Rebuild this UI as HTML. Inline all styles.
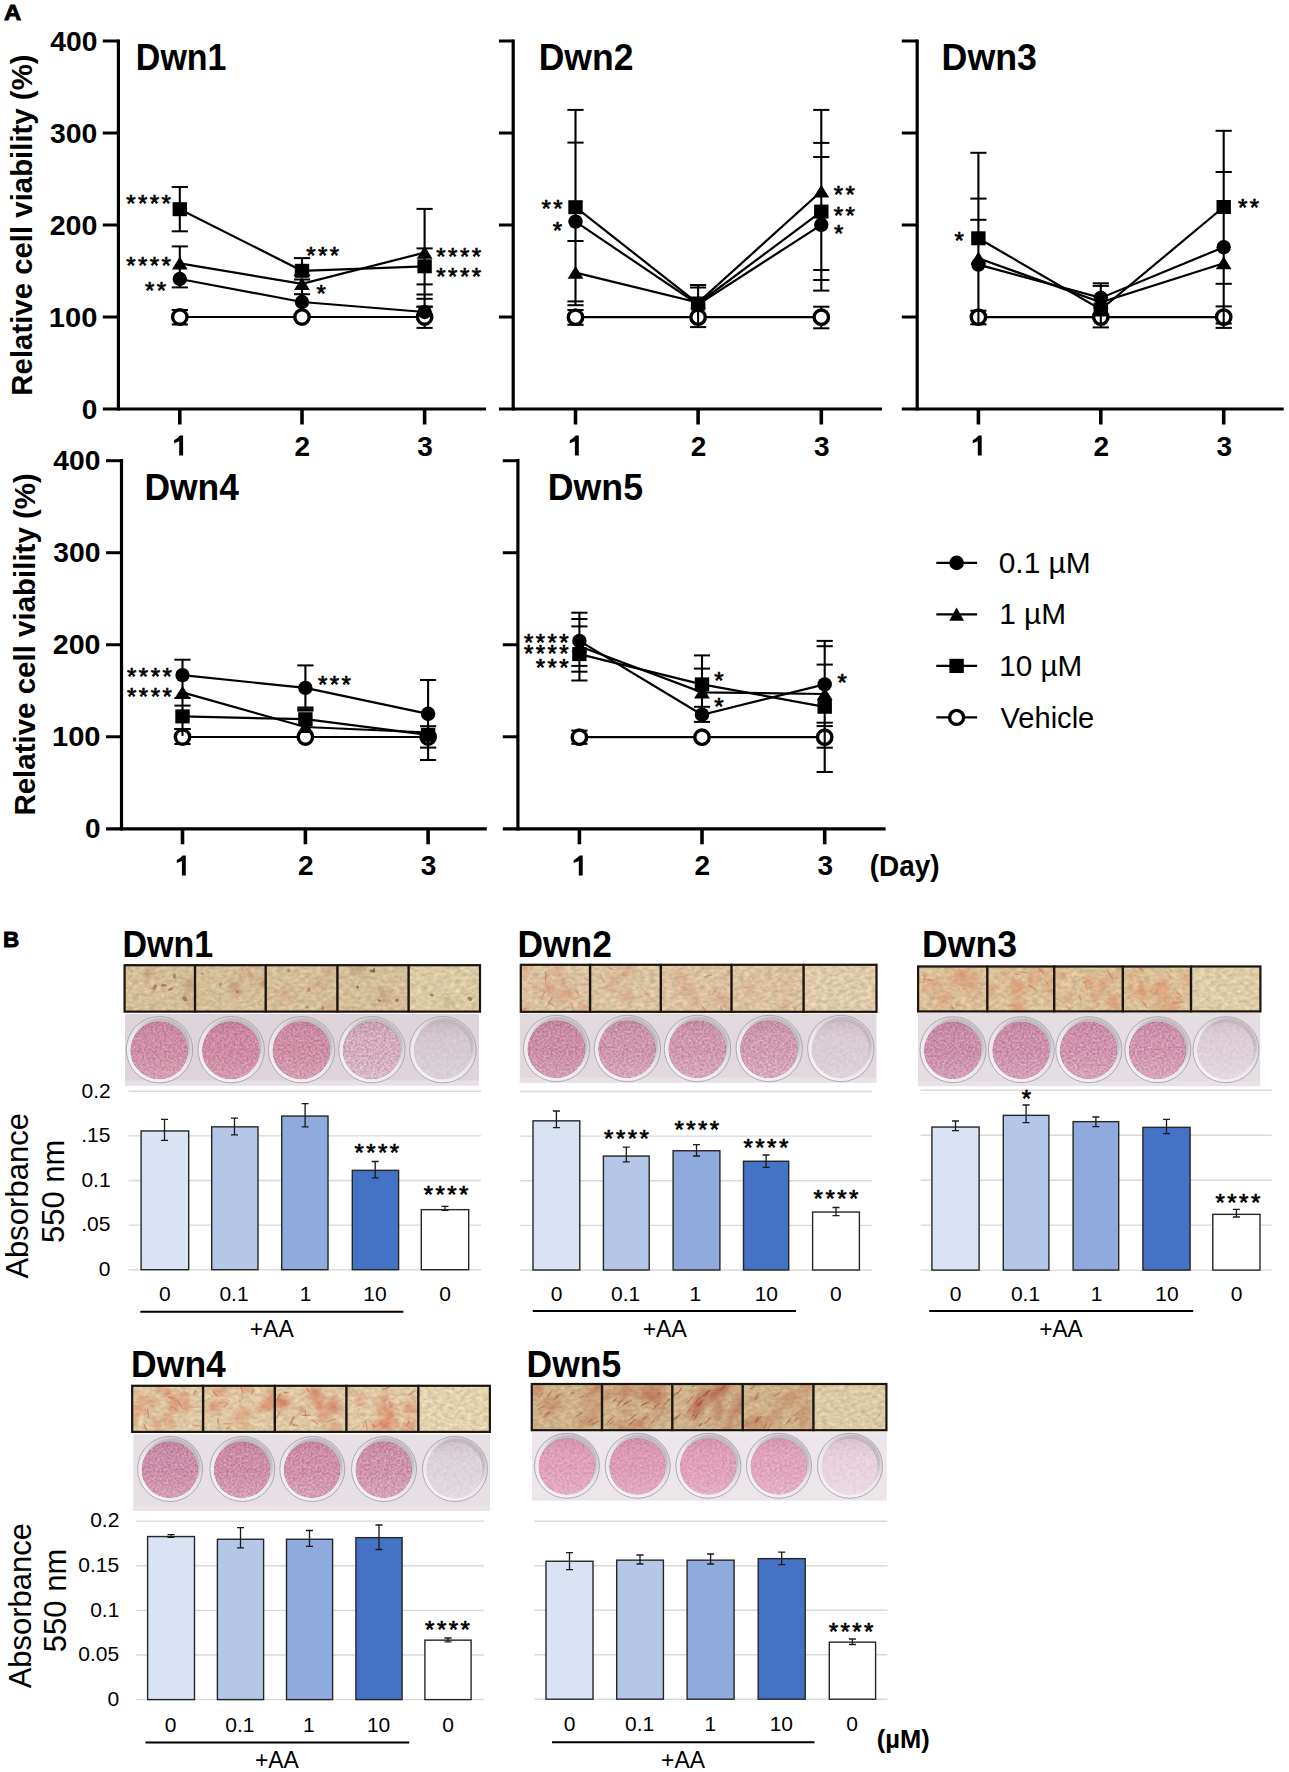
<!DOCTYPE html>
<html><head><meta charset="utf-8"><style>
html,body{margin:0;padding:0;background:#fff;}
svg{display:block;font-family:"Liberation Sans",sans-serif;}
</style></head><body>
<svg width="1289" height="1772" viewBox="0 0 1289 1772">
<rect width="1289" height="1772" fill="#fff"/>
<line x1="118.40" y1="39.40" x2="118.40" y2="410.60" stroke="#000" stroke-width="3.2"/>
<line x1="102.80" y1="409.00" x2="486.00" y2="409.00" stroke="#000" stroke-width="3.2"/>
<line x1="102.80" y1="317.00" x2="118.40" y2="317.00" stroke="#000" stroke-width="3.0"/>
<line x1="102.80" y1="225.00" x2="118.40" y2="225.00" stroke="#000" stroke-width="3.0"/>
<line x1="102.80" y1="133.00" x2="118.40" y2="133.00" stroke="#000" stroke-width="3.0"/>
<line x1="102.80" y1="41.00" x2="118.40" y2="41.00" stroke="#000" stroke-width="3.0"/>
<line x1="179.80" y1="409.00" x2="179.80" y2="424.50" stroke="#000" stroke-width="3.6"/>
<line x1="302.00" y1="409.00" x2="302.00" y2="424.50" stroke="#000" stroke-width="3.6"/>
<line x1="424.60" y1="409.00" x2="424.60" y2="424.50" stroke="#000" stroke-width="3.6"/>
<path d="M183.10,435.60 V455.60 h-3.9 V441.30 L174.10,443.30 V440.20 Q177.50,438.60 180.00,435.60 Z" fill="#000"/>
<text x="294.59" y="455.54" font-size="28" font-weight="bold" fill="#000">2</text>
<text x="417.30" y="455.54" font-size="28" font-weight="bold" fill="#000">3</text>
<text x="81.78" y="418.63" font-size="28" font-weight="bold" fill="#000">0</text>
<text x="48.87" y="326.63" font-size="28" font-weight="bold" textLength="48.54" lengthAdjust="spacingAndGlyphs" fill="#000">100</text>
<text x="49.70" y="234.63" font-size="28" font-weight="bold" textLength="47.69" lengthAdjust="spacingAndGlyphs" fill="#000">200</text>
<text x="50.05" y="142.62" font-size="28" font-weight="bold" textLength="47.33" lengthAdjust="spacingAndGlyphs" fill="#000">300</text>
<text x="50.28" y="50.63" font-size="28" font-weight="bold" textLength="47.09" lengthAdjust="spacingAndGlyphs" fill="#000">400</text>
<text transform="translate(31.90,395.67) rotate(-90)" font-size="30" font-weight="bold" textLength="341.23" lengthAdjust="spacingAndGlyphs">Relative cell viability (%)</text>
<text x="135.82" y="69.80" font-size="37" font-weight="bold" textLength="90.73" lengthAdjust="spacingAndGlyphs" fill="#000">Dwn1</text>
<polyline points="179.80,317.00 302.00,317.00 424.60,317.00" fill="none" stroke="#000" stroke-width="2.2"/>
<line x1="179.80" y1="310.00" x2="179.80" y2="324.50" stroke="#000" stroke-width="2.1"/>
<line x1="171.70" y1="310.00" x2="187.90" y2="310.00" stroke="#000" stroke-width="2.0"/>
<line x1="171.70" y1="324.50" x2="187.90" y2="324.50" stroke="#000" stroke-width="2.0"/>
<line x1="424.60" y1="306.70" x2="424.60" y2="327.90" stroke="#000" stroke-width="2.1"/>
<line x1="416.50" y1="306.70" x2="432.70" y2="306.70" stroke="#000" stroke-width="2.0"/>
<line x1="416.50" y1="327.90" x2="432.70" y2="327.90" stroke="#000" stroke-width="2.0"/>
<circle cx="179.80" cy="317.00" r="7.2" fill="#fff" stroke="#000" stroke-width="3.4"/>
<circle cx="302.00" cy="317.00" r="7.2" fill="#fff" stroke="#000" stroke-width="3.4"/>
<circle cx="424.60" cy="317.00" r="7.2" fill="#fff" stroke="#000" stroke-width="3.4"/>
<line x1="179.80" y1="187.00" x2="179.80" y2="231.30" stroke="#000" stroke-width="2.1"/>
<line x1="171.70" y1="187.00" x2="187.90" y2="187.00" stroke="#000" stroke-width="2.0"/>
<line x1="171.70" y1="231.30" x2="187.90" y2="231.30" stroke="#000" stroke-width="2.0"/>
<line x1="179.80" y1="246.40" x2="179.80" y2="287.40" stroke="#000" stroke-width="2.1"/>
<line x1="171.70" y1="246.40" x2="187.90" y2="246.40" stroke="#000" stroke-width="2.0"/>
<line x1="171.70" y1="287.40" x2="187.90" y2="287.40" stroke="#000" stroke-width="2.0"/>
<line x1="302.00" y1="258.10" x2="302.00" y2="275.50" stroke="#000" stroke-width="2.1"/>
<line x1="293.90" y1="258.10" x2="310.10" y2="258.10" stroke="#000" stroke-width="2.0"/>
<line x1="293.90" y1="275.50" x2="310.10" y2="275.50" stroke="#000" stroke-width="2.0"/>
<line x1="302.00" y1="279.50" x2="302.00" y2="294.20" stroke="#000" stroke-width="2.1"/>
<line x1="293.90" y1="279.50" x2="310.10" y2="279.50" stroke="#000" stroke-width="2.0"/>
<line x1="293.90" y1="294.20" x2="310.10" y2="294.20" stroke="#000" stroke-width="2.0"/>
<line x1="424.60" y1="208.90" x2="424.60" y2="306.70" stroke="#000" stroke-width="2.1"/>
<line x1="416.50" y1="208.90" x2="432.70" y2="208.90" stroke="#000" stroke-width="2.0"/>
<line x1="416.50" y1="248.40" x2="432.70" y2="248.40" stroke="#000" stroke-width="2.0"/>
<line x1="416.50" y1="284.40" x2="432.70" y2="284.40" stroke="#000" stroke-width="2.0"/>
<line x1="416.50" y1="294.50" x2="432.70" y2="294.50" stroke="#000" stroke-width="2.0"/>
<line x1="416.50" y1="298.80" x2="432.70" y2="298.80" stroke="#000" stroke-width="2.0"/>
<line x1="416.50" y1="306.70" x2="432.70" y2="306.70" stroke="#000" stroke-width="2.0"/>
<polyline points="179.80,279.00 302.00,302.00 424.60,312.00" fill="none" stroke="#000" stroke-width="2.2"/>
<polyline points="179.80,263.40 302.00,283.90 424.60,252.60" fill="none" stroke="#000" stroke-width="2.2"/>
<polyline points="179.80,209.20 302.00,270.80 424.60,266.30" fill="none" stroke="#000" stroke-width="2.2"/>
<circle cx="179.80" cy="279.00" r="7.2" fill="#000"/>
<circle cx="302.00" cy="302.00" r="7.2" fill="#000"/>
<circle cx="424.60" cy="312.00" r="7.2" fill="#000"/>
<polygon points="179.80,256.80 187.70,269.50 171.90,269.50" fill="#000"/>
<polygon points="302.00,277.30 309.90,290.00 294.10,290.00" fill="#000"/>
<polygon points="424.60,246.00 432.50,258.70 416.70,258.70" fill="#000"/>
<rect x="172.60" y="202.20" width="14.4" height="14.0" fill="#000"/>
<rect x="294.80" y="263.80" width="14.4" height="14.0" fill="#000"/>
<rect x="417.40" y="259.30" width="14.4" height="14.0" fill="#000"/>
<text x="126.15" y="211.70" font-size="24.0" stroke="#000" stroke-width="0.7">*</text><text x="137.95" y="211.70" font-size="24.0" stroke="#000" stroke-width="0.7">*</text><text x="149.75" y="211.70" font-size="24.0" stroke="#000" stroke-width="0.7">*</text><text x="161.55" y="211.70" font-size="24.0" stroke="#000" stroke-width="0.7">*</text>
<text x="126.15" y="273.80" font-size="24.0" stroke="#000" stroke-width="0.7">*</text><text x="137.95" y="273.80" font-size="24.0" stroke="#000" stroke-width="0.7">*</text><text x="149.75" y="273.80" font-size="24.0" stroke="#000" stroke-width="0.7">*</text><text x="161.55" y="273.80" font-size="24.0" stroke="#000" stroke-width="0.7">*</text>
<text x="145.05" y="298.60" font-size="24.0" stroke="#000" stroke-width="0.7">*</text><text x="156.85" y="298.60" font-size="24.0" stroke="#000" stroke-width="0.7">*</text>
<text x="306.22" y="263.90" font-size="24.0" stroke="#000" stroke-width="0.7">*</text><text x="318.02" y="263.90" font-size="24.0" stroke="#000" stroke-width="0.7">*</text><text x="329.82" y="263.90" font-size="24.0" stroke="#000" stroke-width="0.7">*</text>
<text x="316.62" y="302.30" font-size="24.0" stroke="#000" stroke-width="0.7">*</text>
<text x="436.32" y="264.90" font-size="24.0" stroke="#000" stroke-width="0.7">*</text><text x="448.12" y="264.90" font-size="24.0" stroke="#000" stroke-width="0.7">*</text><text x="459.92" y="264.90" font-size="24.0" stroke="#000" stroke-width="0.7">*</text><text x="471.72" y="264.90" font-size="24.0" stroke="#000" stroke-width="0.7">*</text>
<text x="436.32" y="285.10" font-size="24.0" stroke="#000" stroke-width="0.7">*</text><text x="448.12" y="285.10" font-size="24.0" stroke="#000" stroke-width="0.7">*</text><text x="459.92" y="285.10" font-size="24.0" stroke="#000" stroke-width="0.7">*</text><text x="471.72" y="285.10" font-size="24.0" stroke="#000" stroke-width="0.7">*</text>
<line x1="513.20" y1="39.40" x2="513.20" y2="410.60" stroke="#000" stroke-width="3.2"/>
<line x1="498.90" y1="409.00" x2="882.00" y2="409.00" stroke="#000" stroke-width="3.2"/>
<line x1="498.90" y1="317.00" x2="513.20" y2="317.00" stroke="#000" stroke-width="3.0"/>
<line x1="498.90" y1="225.00" x2="513.20" y2="225.00" stroke="#000" stroke-width="3.0"/>
<line x1="498.90" y1="133.00" x2="513.20" y2="133.00" stroke="#000" stroke-width="3.0"/>
<line x1="498.90" y1="41.00" x2="513.20" y2="41.00" stroke="#000" stroke-width="3.0"/>
<line x1="575.50" y1="409.00" x2="575.50" y2="424.50" stroke="#000" stroke-width="3.6"/>
<line x1="698.10" y1="409.00" x2="698.10" y2="424.50" stroke="#000" stroke-width="3.6"/>
<line x1="821.30" y1="409.00" x2="821.30" y2="424.50" stroke="#000" stroke-width="3.6"/>
<path d="M578.80,435.60 V455.60 h-3.9 V441.30 L569.80,443.30 V440.20 Q573.20,438.60 575.70,435.60 Z" fill="#000"/>
<text x="690.69" y="455.54" font-size="28" font-weight="bold" fill="#000">2</text>
<text x="814.00" y="455.54" font-size="28" font-weight="bold" fill="#000">3</text>
<text x="538.72" y="70.00" font-size="37" font-weight="bold" textLength="94.70" lengthAdjust="spacingAndGlyphs" fill="#000">Dwn2</text>
<polyline points="575.50,317.20 698.10,317.20 821.30,317.20" fill="none" stroke="#000" stroke-width="2.2"/>
<line x1="575.50" y1="310.00" x2="575.50" y2="324.80" stroke="#000" stroke-width="2.1"/>
<line x1="567.40" y1="310.00" x2="583.60" y2="310.00" stroke="#000" stroke-width="2.0"/>
<line x1="567.40" y1="324.80" x2="583.60" y2="324.80" stroke="#000" stroke-width="2.0"/>
<line x1="821.30" y1="306.70" x2="821.30" y2="328.30" stroke="#000" stroke-width="2.1"/>
<line x1="813.20" y1="306.70" x2="829.40" y2="306.70" stroke="#000" stroke-width="2.0"/>
<line x1="813.20" y1="328.30" x2="829.40" y2="328.30" stroke="#000" stroke-width="2.0"/>
<circle cx="575.50" cy="317.20" r="7.2" fill="#fff" stroke="#000" stroke-width="3.4"/>
<circle cx="698.10" cy="317.20" r="7.2" fill="#fff" stroke="#000" stroke-width="3.4"/>
<circle cx="821.30" cy="317.20" r="7.2" fill="#fff" stroke="#000" stroke-width="3.4"/>
<line x1="575.50" y1="109.90" x2="575.50" y2="305.20" stroke="#000" stroke-width="2.1"/>
<line x1="567.40" y1="109.90" x2="583.60" y2="109.90" stroke="#000" stroke-width="2.0"/>
<line x1="567.40" y1="142.60" x2="583.60" y2="142.60" stroke="#000" stroke-width="2.0"/>
<line x1="567.40" y1="241.00" x2="583.60" y2="241.00" stroke="#000" stroke-width="2.0"/>
<line x1="567.40" y1="301.40" x2="583.60" y2="301.40" stroke="#000" stroke-width="2.0"/>
<line x1="567.40" y1="305.20" x2="583.60" y2="305.20" stroke="#000" stroke-width="2.0"/>
<line x1="698.10" y1="285.00" x2="698.10" y2="327.10" stroke="#000" stroke-width="2.1"/>
<line x1="690.00" y1="285.00" x2="706.20" y2="285.00" stroke="#000" stroke-width="2.0"/>
<line x1="690.00" y1="287.50" x2="706.20" y2="287.50" stroke="#000" stroke-width="2.0"/>
<line x1="690.00" y1="327.10" x2="706.20" y2="327.10" stroke="#000" stroke-width="2.0"/>
<line x1="821.30" y1="109.90" x2="821.30" y2="290.60" stroke="#000" stroke-width="2.1"/>
<line x1="813.20" y1="109.90" x2="829.40" y2="109.90" stroke="#000" stroke-width="2.0"/>
<line x1="813.20" y1="142.90" x2="829.40" y2="142.90" stroke="#000" stroke-width="2.0"/>
<line x1="813.20" y1="157.00" x2="829.40" y2="157.00" stroke="#000" stroke-width="2.0"/>
<line x1="813.20" y1="270.00" x2="829.40" y2="270.00" stroke="#000" stroke-width="2.0"/>
<line x1="813.20" y1="280.00" x2="829.40" y2="280.00" stroke="#000" stroke-width="2.0"/>
<line x1="813.20" y1="290.60" x2="829.40" y2="290.60" stroke="#000" stroke-width="2.0"/>
<polyline points="575.50,272.60 698.10,302.50 821.30,191.30" fill="none" stroke="#000" stroke-width="2.2"/>
<polyline points="575.50,221.60 698.10,304.50 821.30,224.80" fill="none" stroke="#000" stroke-width="2.2"/>
<polyline points="575.50,207.20 698.10,303.50 821.30,211.60" fill="none" stroke="#000" stroke-width="2.2"/>
<polygon points="575.50,266.00 583.40,278.70 567.60,278.70" fill="#000"/>
<polygon points="698.10,295.90 706.00,308.60 690.20,308.60" fill="#000"/>
<polygon points="821.30,184.70 829.20,197.40 813.40,197.40" fill="#000"/>
<circle cx="575.50" cy="221.60" r="7.2" fill="#000"/>
<circle cx="698.10" cy="304.50" r="7.2" fill="#000"/>
<circle cx="821.30" cy="224.80" r="7.2" fill="#000"/>
<rect x="568.30" y="200.20" width="14.4" height="14.0" fill="#000"/>
<rect x="690.90" y="296.50" width="14.4" height="14.0" fill="#000"/>
<rect x="814.10" y="204.60" width="14.4" height="14.0" fill="#000"/>
<text x="541.55" y="216.50" font-size="24.0" stroke="#000" stroke-width="0.7">*</text><text x="553.35" y="216.50" font-size="24.0" stroke="#000" stroke-width="0.7">*</text>
<text x="552.85" y="238.80" font-size="24.0" stroke="#000" stroke-width="0.7">*</text>
<text x="833.82" y="202.80" font-size="24.0" stroke="#000" stroke-width="0.7">*</text><text x="845.62" y="202.80" font-size="24.0" stroke="#000" stroke-width="0.7">*</text>
<text x="833.82" y="223.90" font-size="24.0" stroke="#000" stroke-width="0.7">*</text><text x="845.62" y="223.90" font-size="24.0" stroke="#000" stroke-width="0.7">*</text>
<text x="834.12" y="241.80" font-size="24.0" stroke="#000" stroke-width="0.7">*</text>
<line x1="917.20" y1="39.40" x2="917.20" y2="410.60" stroke="#000" stroke-width="3.2"/>
<line x1="901.80" y1="409.00" x2="1283.70" y2="409.00" stroke="#000" stroke-width="3.2"/>
<line x1="901.80" y1="317.00" x2="917.20" y2="317.00" stroke="#000" stroke-width="3.0"/>
<line x1="901.80" y1="225.00" x2="917.20" y2="225.00" stroke="#000" stroke-width="3.0"/>
<line x1="901.80" y1="133.00" x2="917.20" y2="133.00" stroke="#000" stroke-width="3.0"/>
<line x1="901.80" y1="41.00" x2="917.20" y2="41.00" stroke="#000" stroke-width="3.0"/>
<line x1="978.40" y1="409.00" x2="978.40" y2="424.50" stroke="#000" stroke-width="3.6"/>
<line x1="1100.80" y1="409.00" x2="1100.80" y2="424.50" stroke="#000" stroke-width="3.6"/>
<line x1="1223.70" y1="409.00" x2="1223.70" y2="424.50" stroke="#000" stroke-width="3.6"/>
<path d="M981.70,435.60 V455.60 h-3.9 V441.30 L972.70,443.30 V440.20 Q976.10,438.60 978.60,435.60 Z" fill="#000"/>
<text x="1093.39" y="455.54" font-size="28" font-weight="bold" fill="#000">2</text>
<text x="1216.40" y="455.54" font-size="28" font-weight="bold" fill="#000">3</text>
<text x="941.60" y="69.59" font-size="37" font-weight="bold" textLength="95.38" lengthAdjust="spacingAndGlyphs" fill="#000">Dwn3</text>
<polyline points="978.40,317.10 1100.80,317.10 1223.70,317.10" fill="none" stroke="#000" stroke-width="2.2"/>
<circle cx="978.40" cy="317.10" r="7.2" fill="#fff" stroke="#000" stroke-width="3.4"/>
<circle cx="1100.80" cy="317.10" r="7.2" fill="#fff" stroke="#000" stroke-width="3.4"/>
<circle cx="1223.70" cy="317.10" r="7.2" fill="#fff" stroke="#000" stroke-width="3.4"/>
<line x1="978.40" y1="152.80" x2="978.40" y2="324.30" stroke="#000" stroke-width="2.1"/>
<line x1="970.30" y1="152.80" x2="986.50" y2="152.80" stroke="#000" stroke-width="2.0"/>
<line x1="970.30" y1="198.60" x2="986.50" y2="198.60" stroke="#000" stroke-width="2.0"/>
<line x1="970.30" y1="219.80" x2="986.50" y2="219.80" stroke="#000" stroke-width="2.0"/>
<line x1="970.30" y1="310.70" x2="986.50" y2="310.70" stroke="#000" stroke-width="2.0"/>
<line x1="970.30" y1="324.30" x2="986.50" y2="324.30" stroke="#000" stroke-width="2.0"/>
<line x1="1100.80" y1="283.30" x2="1100.80" y2="327.40" stroke="#000" stroke-width="2.1"/>
<line x1="1092.70" y1="283.30" x2="1108.90" y2="283.30" stroke="#000" stroke-width="2.0"/>
<line x1="1092.70" y1="285.90" x2="1108.90" y2="285.90" stroke="#000" stroke-width="2.0"/>
<line x1="1092.70" y1="327.40" x2="1108.90" y2="327.40" stroke="#000" stroke-width="2.0"/>
<line x1="1223.70" y1="130.80" x2="1223.70" y2="327.90" stroke="#000" stroke-width="2.1"/>
<line x1="1215.60" y1="130.80" x2="1231.80" y2="130.80" stroke="#000" stroke-width="2.0"/>
<line x1="1215.60" y1="172.00" x2="1231.80" y2="172.00" stroke="#000" stroke-width="2.0"/>
<line x1="1215.60" y1="283.80" x2="1231.80" y2="283.80" stroke="#000" stroke-width="2.0"/>
<line x1="1215.60" y1="306.40" x2="1231.80" y2="306.40" stroke="#000" stroke-width="2.0"/>
<line x1="1215.60" y1="323.50" x2="1231.80" y2="323.50" stroke="#000" stroke-width="2.0"/>
<line x1="1215.60" y1="327.90" x2="1231.80" y2="327.90" stroke="#000" stroke-width="2.0"/>
<polyline points="978.40,258.20 1100.80,302.30 1223.70,263.20" fill="none" stroke="#000" stroke-width="2.2"/>
<polyline points="978.40,264.60 1100.80,297.90 1223.70,247.20" fill="none" stroke="#000" stroke-width="2.2"/>
<polyline points="978.40,238.30 1100.80,309.50 1223.70,207.00" fill="none" stroke="#000" stroke-width="2.2"/>
<polygon points="978.40,251.60 986.30,264.30 970.50,264.30" fill="#000"/>
<polygon points="1100.80,295.70 1108.70,308.40 1092.90,308.40" fill="#000"/>
<polygon points="1223.70,256.60 1231.60,269.30 1215.80,269.30" fill="#000"/>
<circle cx="978.40" cy="264.60" r="7.2" fill="#000"/>
<circle cx="1100.80" cy="297.90" r="7.2" fill="#000"/>
<circle cx="1223.70" cy="247.20" r="7.2" fill="#000"/>
<rect x="971.20" y="231.30" width="14.4" height="14.0" fill="#000"/>
<rect x="1093.60" y="302.50" width="14.4" height="14.0" fill="#000"/>
<rect x="1216.50" y="200.00" width="14.4" height="14.0" fill="#000"/>
<text x="954.42" y="248.80" font-size="24.0" stroke="#000" stroke-width="0.7">*</text>
<text x="1237.92" y="216.30" font-size="24.0" stroke="#000" stroke-width="0.7">*</text><text x="1249.72" y="216.30" font-size="24.0" stroke="#000" stroke-width="0.7">*</text>
<line x1="121.50" y1="459.10" x2="121.50" y2="830.40" stroke="#000" stroke-width="3.2"/>
<line x1="106.00" y1="828.80" x2="486.80" y2="828.80" stroke="#000" stroke-width="3.2"/>
<line x1="106.00" y1="736.77" x2="121.50" y2="736.77" stroke="#000" stroke-width="3.0"/>
<line x1="106.00" y1="644.75" x2="121.50" y2="644.75" stroke="#000" stroke-width="3.0"/>
<line x1="106.00" y1="552.72" x2="121.50" y2="552.72" stroke="#000" stroke-width="3.0"/>
<line x1="106.00" y1="460.70" x2="121.50" y2="460.70" stroke="#000" stroke-width="3.0"/>
<line x1="182.50" y1="828.80" x2="182.50" y2="844.30" stroke="#000" stroke-width="3.6"/>
<line x1="305.40" y1="828.80" x2="305.40" y2="844.30" stroke="#000" stroke-width="3.6"/>
<line x1="428.10" y1="828.80" x2="428.10" y2="844.30" stroke="#000" stroke-width="3.6"/>
<path d="M185.80,855.40 V875.40 h-3.9 V861.10 L176.80,863.10 V860.00 Q180.20,858.40 182.70,855.40 Z" fill="#000"/>
<text x="297.99" y="875.34" font-size="28" font-weight="bold" fill="#000">2</text>
<text x="420.80" y="875.34" font-size="28" font-weight="bold" fill="#000">3</text>
<text x="84.88" y="838.43" font-size="28" font-weight="bold" fill="#000">0</text>
<text x="51.97" y="746.41" font-size="28" font-weight="bold" textLength="48.54" lengthAdjust="spacingAndGlyphs" fill="#000">100</text>
<text x="52.80" y="654.38" font-size="28" font-weight="bold" textLength="47.69" lengthAdjust="spacingAndGlyphs" fill="#000">200</text>
<text x="53.15" y="562.34" font-size="28" font-weight="bold" textLength="47.33" lengthAdjust="spacingAndGlyphs" fill="#000">300</text>
<text x="53.38" y="470.33" font-size="28" font-weight="bold" textLength="47.09" lengthAdjust="spacingAndGlyphs" fill="#000">400</text>
<text transform="translate(35.00,815.58) rotate(-90)" font-size="30" font-weight="bold" textLength="342.44" lengthAdjust="spacingAndGlyphs">Relative cell viability (%)</text>
<text x="144.42" y="499.80" font-size="37" font-weight="bold" textLength="94.55" lengthAdjust="spacingAndGlyphs" fill="#000">Dwn4</text>
<polyline points="182.50,737.00 305.40,737.00 428.10,737.00" fill="none" stroke="#000" stroke-width="2.2"/>
<line x1="182.50" y1="729.00" x2="182.50" y2="744.00" stroke="#000" stroke-width="2.1"/>
<line x1="174.40" y1="729.00" x2="190.60" y2="729.00" stroke="#000" stroke-width="2.0"/>
<line x1="174.40" y1="744.00" x2="190.60" y2="744.00" stroke="#000" stroke-width="2.0"/>
<circle cx="182.50" cy="737.00" r="7.2" fill="#fff" stroke="#000" stroke-width="3.4"/>
<circle cx="305.40" cy="737.00" r="7.2" fill="#fff" stroke="#000" stroke-width="3.4"/>
<circle cx="428.10" cy="737.00" r="7.2" fill="#fff" stroke="#000" stroke-width="3.4"/>
<line x1="182.50" y1="659.70" x2="182.50" y2="736.00" stroke="#000" stroke-width="2.1"/>
<line x1="174.40" y1="659.70" x2="190.60" y2="659.70" stroke="#000" stroke-width="2.0"/>
<line x1="174.40" y1="698.00" x2="190.60" y2="698.00" stroke="#000" stroke-width="2.0"/>
<line x1="174.40" y1="705.60" x2="190.60" y2="705.60" stroke="#000" stroke-width="2.0"/>
<line x1="174.40" y1="729.00" x2="190.60" y2="729.00" stroke="#000" stroke-width="2.0"/>
<line x1="305.40" y1="665.40" x2="305.40" y2="710.60" stroke="#000" stroke-width="2.1"/>
<line x1="297.30" y1="665.40" x2="313.50" y2="665.40" stroke="#000" stroke-width="2.0"/>
<line x1="297.30" y1="707.50" x2="313.50" y2="707.50" stroke="#000" stroke-width="2.0"/>
<line x1="297.30" y1="709.20" x2="313.50" y2="709.20" stroke="#000" stroke-width="2.0"/>
<line x1="297.30" y1="710.60" x2="313.50" y2="710.60" stroke="#000" stroke-width="2.0"/>
<line x1="428.10" y1="680.00" x2="428.10" y2="760.00" stroke="#000" stroke-width="2.1"/>
<line x1="420.00" y1="680.00" x2="436.20" y2="680.00" stroke="#000" stroke-width="2.0"/>
<line x1="420.00" y1="726.20" x2="436.20" y2="726.20" stroke="#000" stroke-width="2.0"/>
<line x1="420.00" y1="747.60" x2="436.20" y2="747.60" stroke="#000" stroke-width="2.0"/>
<line x1="420.00" y1="760.00" x2="436.20" y2="760.00" stroke="#000" stroke-width="2.0"/>
<polyline points="182.50,692.40 305.40,727.00 428.10,732.50" fill="none" stroke="#000" stroke-width="2.2"/>
<polyline points="182.50,716.40 305.40,719.20 428.10,734.80" fill="none" stroke="#000" stroke-width="2.2"/>
<polyline points="182.50,675.10 305.40,687.90 428.10,713.80" fill="none" stroke="#000" stroke-width="2.2"/>
<polygon points="182.50,685.80 190.40,698.50 174.60,698.50" fill="#000"/>
<polygon points="305.40,720.40 313.30,733.10 297.50,733.10" fill="#000"/>
<polygon points="428.10,725.90 436.00,738.60 420.20,738.60" fill="#000"/>
<rect x="175.30" y="709.40" width="14.4" height="14.0" fill="#000"/>
<rect x="298.20" y="712.20" width="14.4" height="14.0" fill="#000"/>
<rect x="420.90" y="727.80" width="14.4" height="14.0" fill="#000"/>
<circle cx="182.50" cy="675.10" r="7.2" fill="#000"/>
<circle cx="305.40" cy="687.90" r="7.2" fill="#000"/>
<circle cx="428.10" cy="713.80" r="7.2" fill="#000"/>
<text x="127.05" y="684.50" font-size="24.0" stroke="#000" stroke-width="0.7">*</text><text x="138.85" y="684.50" font-size="24.0" stroke="#000" stroke-width="0.7">*</text><text x="150.65" y="684.50" font-size="24.0" stroke="#000" stroke-width="0.7">*</text><text x="162.45" y="684.50" font-size="24.0" stroke="#000" stroke-width="0.7">*</text>
<text x="127.05" y="705.10" font-size="24.0" stroke="#000" stroke-width="0.7">*</text><text x="138.85" y="705.10" font-size="24.0" stroke="#000" stroke-width="0.7">*</text><text x="150.65" y="705.10" font-size="24.0" stroke="#000" stroke-width="0.7">*</text><text x="162.45" y="705.10" font-size="24.0" stroke="#000" stroke-width="0.7">*</text>
<text x="318.02" y="693.20" font-size="24.0" stroke="#000" stroke-width="0.7">*</text><text x="329.82" y="693.20" font-size="24.0" stroke="#000" stroke-width="0.7">*</text><text x="341.62" y="693.20" font-size="24.0" stroke="#000" stroke-width="0.7">*</text>
<line x1="517.90" y1="459.10" x2="517.90" y2="830.40" stroke="#000" stroke-width="3.2"/>
<line x1="502.80" y1="828.80" x2="885.60" y2="828.80" stroke="#000" stroke-width="3.2"/>
<line x1="502.80" y1="736.77" x2="517.90" y2="736.77" stroke="#000" stroke-width="3.0"/>
<line x1="502.80" y1="644.75" x2="517.90" y2="644.75" stroke="#000" stroke-width="3.0"/>
<line x1="502.80" y1="552.72" x2="517.90" y2="552.72" stroke="#000" stroke-width="3.0"/>
<line x1="502.80" y1="460.70" x2="517.90" y2="460.70" stroke="#000" stroke-width="3.0"/>
<line x1="579.40" y1="828.80" x2="579.40" y2="844.30" stroke="#000" stroke-width="3.6"/>
<line x1="702.00" y1="828.80" x2="702.00" y2="844.30" stroke="#000" stroke-width="3.6"/>
<line x1="824.70" y1="828.80" x2="824.70" y2="844.30" stroke="#000" stroke-width="3.6"/>
<path d="M582.70,855.40 V875.40 h-3.9 V861.10 L573.70,863.10 V860.00 Q577.10,858.40 579.60,855.40 Z" fill="#000"/>
<text x="694.59" y="875.34" font-size="28" font-weight="bold" fill="#000">2</text>
<text x="817.40" y="875.34" font-size="28" font-weight="bold" fill="#000">3</text>
<text x="547.81" y="499.63" font-size="37" font-weight="bold" textLength="95.19" lengthAdjust="spacingAndGlyphs" fill="#000">Dwn5</text>
<polyline points="579.40,737.20 702.00,737.20 824.70,737.20" fill="none" stroke="#000" stroke-width="2.2"/>
<line x1="579.40" y1="730.60" x2="579.40" y2="743.80" stroke="#000" stroke-width="2.1"/>
<line x1="571.30" y1="730.60" x2="587.50" y2="730.60" stroke="#000" stroke-width="2.0"/>
<line x1="571.30" y1="743.80" x2="587.50" y2="743.80" stroke="#000" stroke-width="2.0"/>
<circle cx="579.40" cy="737.20" r="7.2" fill="#fff" stroke="#000" stroke-width="3.4"/>
<circle cx="702.00" cy="737.20" r="7.2" fill="#fff" stroke="#000" stroke-width="3.4"/>
<circle cx="824.70" cy="737.20" r="7.2" fill="#fff" stroke="#000" stroke-width="3.4"/>
<line x1="579.40" y1="612.70" x2="579.40" y2="680.50" stroke="#000" stroke-width="2.1"/>
<line x1="571.30" y1="612.70" x2="587.50" y2="612.70" stroke="#000" stroke-width="2.0"/>
<line x1="571.30" y1="619.00" x2="587.50" y2="619.00" stroke="#000" stroke-width="2.0"/>
<line x1="571.30" y1="626.40" x2="587.50" y2="626.40" stroke="#000" stroke-width="2.0"/>
<line x1="571.30" y1="665.90" x2="587.50" y2="665.90" stroke="#000" stroke-width="2.0"/>
<line x1="571.30" y1="671.70" x2="587.50" y2="671.70" stroke="#000" stroke-width="2.0"/>
<line x1="571.30" y1="680.50" x2="587.50" y2="680.50" stroke="#000" stroke-width="2.0"/>
<line x1="702.00" y1="655.40" x2="702.00" y2="721.90" stroke="#000" stroke-width="2.1"/>
<line x1="693.90" y1="655.40" x2="710.10" y2="655.40" stroke="#000" stroke-width="2.0"/>
<line x1="693.90" y1="668.60" x2="710.10" y2="668.60" stroke="#000" stroke-width="2.0"/>
<line x1="693.90" y1="706.80" x2="710.10" y2="706.80" stroke="#000" stroke-width="2.0"/>
<line x1="693.90" y1="721.90" x2="710.10" y2="721.90" stroke="#000" stroke-width="2.0"/>
<line x1="824.70" y1="640.90" x2="824.70" y2="772.00" stroke="#000" stroke-width="2.1"/>
<line x1="816.60" y1="640.90" x2="832.80" y2="640.90" stroke="#000" stroke-width="2.0"/>
<line x1="816.60" y1="646.20" x2="832.80" y2="646.20" stroke="#000" stroke-width="2.0"/>
<line x1="816.60" y1="664.60" x2="832.80" y2="664.60" stroke="#000" stroke-width="2.0"/>
<line x1="816.60" y1="722.70" x2="832.80" y2="722.70" stroke="#000" stroke-width="2.0"/>
<line x1="816.60" y1="726.10" x2="832.80" y2="726.10" stroke="#000" stroke-width="2.0"/>
<line x1="816.60" y1="747.70" x2="832.80" y2="747.70" stroke="#000" stroke-width="2.0"/>
<line x1="816.60" y1="772.00" x2="832.80" y2="772.00" stroke="#000" stroke-width="2.0"/>
<polyline points="579.40,654.10 702.00,684.40 824.70,706.80" fill="none" stroke="#000" stroke-width="2.2"/>
<polyline points="579.40,646.20 702.00,692.30 824.70,694.00" fill="none" stroke="#000" stroke-width="2.2"/>
<polyline points="579.40,640.90 702.00,714.70 824.70,684.40" fill="none" stroke="#000" stroke-width="2.2"/>
<rect x="572.20" y="647.10" width="14.4" height="14.0" fill="#000"/>
<rect x="694.80" y="677.40" width="14.4" height="14.0" fill="#000"/>
<rect x="817.50" y="699.80" width="14.4" height="14.0" fill="#000"/>
<polygon points="579.40,639.60 587.30,652.30 571.50,652.30" fill="#000"/>
<polygon points="702.00,685.70 709.90,698.40 694.10,698.40" fill="#000"/>
<polygon points="824.70,687.40 832.60,700.10 816.80,700.10" fill="#000"/>
<circle cx="579.40" cy="640.90" r="7.2" fill="#000"/>
<circle cx="702.00" cy="714.70" r="7.2" fill="#000"/>
<circle cx="824.70" cy="684.40" r="7.2" fill="#000"/>
<text x="523.95" y="651.30" font-size="24.0" stroke="#000" stroke-width="0.7">*</text><text x="535.75" y="651.30" font-size="24.0" stroke="#000" stroke-width="0.7">*</text><text x="547.55" y="651.30" font-size="24.0" stroke="#000" stroke-width="0.7">*</text><text x="559.35" y="651.30" font-size="24.0" stroke="#000" stroke-width="0.7">*</text>
<text x="523.95" y="662.40" font-size="24.0" stroke="#000" stroke-width="0.7">*</text><text x="535.75" y="662.40" font-size="24.0" stroke="#000" stroke-width="0.7">*</text><text x="547.55" y="662.40" font-size="24.0" stroke="#000" stroke-width="0.7">*</text><text x="559.35" y="662.40" font-size="24.0" stroke="#000" stroke-width="0.7">*</text>
<text x="535.75" y="676.40" font-size="24.0" stroke="#000" stroke-width="0.7">*</text><text x="547.55" y="676.40" font-size="24.0" stroke="#000" stroke-width="0.7">*</text><text x="559.35" y="676.40" font-size="24.0" stroke="#000" stroke-width="0.7">*</text>
<text x="714.32" y="688.80" font-size="24.0" stroke="#000" stroke-width="0.7">*</text>
<text x="714.32" y="714.60" font-size="24.0" stroke="#000" stroke-width="0.7">*</text>
<text x="837.52" y="690.90" font-size="24.0" stroke="#000" stroke-width="0.7">*</text>
<text x="869.80" y="875.73" font-size="29" font-weight="bold" textLength="69.78" lengthAdjust="spacingAndGlyphs" fill="#000">(Day)</text>
<line x1="936.3" y1="562.90" x2="977.1" y2="562.90" stroke="#000" stroke-width="2.2"/>
<circle cx="956.6" cy="562.90" r="7.3" fill="#000"/>

<line x1="936.3" y1="614.40" x2="977.1" y2="614.40" stroke="#000" stroke-width="2.2"/>
<polygon points="956.6,607.40 964.0,620.80 949.2,620.80" fill="#000"/>

<line x1="936.3" y1="665.90" x2="977.1" y2="665.90" stroke="#000" stroke-width="2.2"/>
<rect x="949.4" y="658.80" width="14.4" height="14.2" fill="#000"/>

<line x1="936.3" y1="717.40" x2="977.1" y2="717.40" stroke="#000" stroke-width="2.2"/>
<circle cx="956.6" cy="717.40" r="7.0" fill="#fff" stroke="#000" stroke-width="3.4"/>

<text x="998.73" y="572.64" font-size="30" textLength="92.02" lengthAdjust="spacingAndGlyphs" fill="#000">0.1 µM</text>
<text x="999.24" y="623.54" font-size="30" textLength="66.81" lengthAdjust="spacingAndGlyphs" fill="#000">1 µM</text>
<text x="999.24" y="675.84" font-size="30" textLength="83.10" lengthAdjust="spacingAndGlyphs" fill="#000">10 µM</text>
<text x="1000.55" y="728.35" font-size="30" textLength="93.74" lengthAdjust="spacingAndGlyphs" fill="#000">Vehicle</text>
<g stroke="#000" stroke-width="0.9"><text x="4.00" y="19.99" font-size="22.8" font-weight="bold" textLength="17.22" lengthAdjust="spacingAndGlyphs" fill="#000">A</text></g>
<g stroke="#000" stroke-width="0.9"><text x="3.00" y="946.59" font-size="22.8" font-weight="bold" textLength="16.22" lengthAdjust="spacingAndGlyphs" fill="#000">B</text></g>
<defs>
<filter id="mot" x="0" y="0" width="1" height="1" color-interpolation-filters="sRGB">
 <feTurbulence type="fractalNoise" baseFrequency="0.45" numOctaves="2" seed="5"/>
 <feColorMatrix type="matrix" values="1 0 0 0 0  1 0 0 0 0  1 0 0 0 0  0 0 0 0 1" result="n"/>
 <feComposite in="SourceGraphic" in2="n" operator="arithmetic" k1="0.5" k2="0.76" k3="0" k4="0" result="m"/>
 <feComposite in="m" in2="SourceAlpha" operator="in"/>
</filter>
<filter id="motm" x="0" y="0" width="1" height="1" color-interpolation-filters="sRGB">
 <feTurbulence type="fractalNoise" baseFrequency="0.4" numOctaves="2" seed="11"/>
 <feColorMatrix type="matrix" values="1 0 0 0 0  1 0 0 0 0  1 0 0 0 0  0 0 0 0 1" result="n"/>
 <feComposite in="SourceGraphic" in2="n" operator="arithmetic" k1="0.28" k2="0.86" k3="0" k4="0" result="m"/>
 <feComposite in="m" in2="SourceAlpha" operator="in"/>
</filter>
<filter id="motl" x="0" y="0" width="1" height="1" color-interpolation-filters="sRGB">
 <feTurbulence type="fractalNoise" baseFrequency="0.3" numOctaves="3" seed="8"/>
 <feColorMatrix type="matrix" values="1 0 0 0 0  1 0 0 0 0  1 0 0 0 0  0 0 0 0 1" result="n"/>
 <feComposite in="SourceGraphic" in2="n" operator="arithmetic" k1="0.12" k2="0.94" k3="0" k4="0" result="m"/>
 <feComposite in="m" in2="SourceAlpha" operator="in"/>
</filter>
<filter id="tex" x="0" y="0" width="1" height="1" color-interpolation-filters="sRGB">
 <feTurbulence type="fractalNoise" baseFrequency="0.18 0.3" numOctaves="3" seed="9"/>
 <feColorMatrix type="matrix" values="1 0 0 0 0  1 0 0 0 0  1 0 0 0 0  0 0 0 0 1" result="n"/>
 <feComposite in="SourceGraphic" in2="n" operator="arithmetic" k1="0.3" k2="0.86" k3="0" k4="0" result="m"/>
 <feComposite in="m" in2="SourceAlpha" operator="in"/>
</filter>
<filter id="blur1" x="-0.5" y="-0.5" width="2" height="2"><feGaussianBlur stdDeviation="1.7"/></filter>
<filter id="blur05" x="-1" y="-1" width="3" height="3"><feGaussianBlur stdDeviation="0.4"/></filter>
<filter id="blur3" x="-0.5" y="-0.5" width="2" height="2"><feGaussianBlur stdDeviation="3"/></filter>
<radialGradient id="wallg" cx="0.55" cy="0.42" r="0.5">
 <stop offset="0.82" stop-color="#c2b9c1"/><stop offset="0.94" stop-color="#ddd7dc"/><stop offset="1" stop-color="#ece8ec"/>
</radialGradient>
<linearGradient id="rimg" x1="0.2" y1="0.95" x2="0.8" y2="0.05">
 <stop offset="0" stop-color="#f6f3f6"/><stop offset="0.5" stop-color="#e8e3e8"/><stop offset="1" stop-color="#d4cdd4"/>
</linearGradient>
<linearGradient id="lit" x1="0" y1="0" x2="0" y2="1">
 <stop offset="0" stop-color="#501030" stop-opacity="0.10"/><stop offset="0.5" stop-color="#ffffff" stop-opacity="0"/><stop offset="1" stop-color="#ffffff" stop-opacity="0.16"/>
</linearGradient>
</defs>
<text x="122.52" y="957.30" font-size="37" font-weight="bold" textLength="90.73" lengthAdjust="spacingAndGlyphs" fill="#000">Dwn1</text>
<rect x="123.6" y="964.2" width="71.4" height="48.4" fill="#d3bd97" filter="url(#tex)"/>
<svg x="123.6" y="964.2" width="71.4" height="48.4" viewBox="123.6 964.2 71.4 48.4" overflow="hidden"><g filter="url(#blur3)"><ellipse cx="149.4" cy="973.3" rx="5.5" ry="3.8" transform="rotate(109 149.4 973.3)" fill="#9a5535" opacity="0.4"/><ellipse cx="188.8" cy="985.4" rx="7.2" ry="3.9" transform="rotate(83 188.8 985.4)" fill="#9a5535" opacity="0.4"/><ellipse cx="188.5" cy="999.8" rx="4.7" ry="3.1" transform="rotate(73 188.5 999.8)" fill="#9a5535" opacity="0.4"/></g><g filter="url(#blur05)"><ellipse cx="170.6" cy="989.1" rx="2.9" ry="1.3" transform="rotate(156 170.6 989.1)" fill="#6a3520" opacity="0.45"/><ellipse cx="184.6" cy="998.8" rx="2.9" ry="1.9" transform="rotate(48 184.6 998.8)" fill="#6a3520" opacity="0.45"/><ellipse cx="163.7" cy="985.4" rx="3.0" ry="1.4" transform="rotate(0 163.7 985.4)" fill="#6a3520" opacity="0.45"/><ellipse cx="154.7" cy="987.2" rx="2.9" ry="1.8" transform="rotate(118 154.7 987.2)" fill="#6a3520" opacity="0.45"/><ellipse cx="174.4" cy="976.2" rx="2.6" ry="1.6" transform="rotate(88 174.4 976.2)" fill="#6a3520" opacity="0.45"/></g></svg>
<rect x="195.0" y="964.2" width="70.7" height="48.4" fill="#d3bd97" filter="url(#tex)"/>
<svg x="195.0" y="964.2" width="70.7" height="48.4" viewBox="195.0 964.2 70.7 48.4" overflow="hidden"><g filter="url(#blur3)"><ellipse cx="235.5" cy="988.2" rx="8.7" ry="3.7" transform="rotate(72 235.5 988.2)" fill="#b0553e" opacity="0.45"/><ellipse cx="263.3" cy="982.3" rx="4.5" ry="3.9" transform="rotate(164 263.3 982.3)" fill="#b0553e" opacity="0.45"/><ellipse cx="248.2" cy="973.6" rx="8.4" ry="2.5" transform="rotate(62 248.2 973.6)" fill="#b0553e" opacity="0.45"/></g><g filter="url(#blur05)"><ellipse cx="220.4" cy="984.3" rx="1.5" ry="1.5" transform="rotate(121 220.4 984.3)" fill="#9a4030" opacity="0.45"/><ellipse cx="237.5" cy="992.0" rx="1.5" ry="1.3" transform="rotate(31 237.5 992.0)" fill="#9a4030" opacity="0.45"/><ellipse cx="202.1" cy="973.6" rx="1.9" ry="1.0" transform="rotate(52 202.1 973.6)" fill="#9a4030" opacity="0.45"/></g></svg>
<rect x="265.7" y="964.2" width="71.7" height="48.4" fill="#d3bd97" filter="url(#tex)"/>
<svg x="265.7" y="964.2" width="71.7" height="48.4" viewBox="265.7 964.2 71.7 48.4" overflow="hidden"><g filter="url(#blur3)"><ellipse cx="280.9" cy="993.2" rx="5.3" ry="1.6" transform="rotate(152 280.9 993.2)" fill="#c05a45" opacity="0.45"/><ellipse cx="331.4" cy="1008.1" rx="8.4" ry="2.0" transform="rotate(86 331.4 1008.1)" fill="#c05a45" opacity="0.45"/><ellipse cx="319.0" cy="984.4" rx="9.4" ry="1.8" transform="rotate(10 319.0 984.4)" fill="#c05a45" opacity="0.45"/><ellipse cx="328.1" cy="972.9" rx="4.5" ry="2.8" transform="rotate(91 328.1 972.9)" fill="#c05a45" opacity="0.45"/><ellipse cx="286.9" cy="995.7" rx="5.4" ry="2.3" transform="rotate(38 286.9 995.7)" fill="#c05a45" opacity="0.45"/></g><g filter="url(#blur05)"><ellipse cx="308.8" cy="990.1" rx="2.2" ry="1.8" transform="rotate(153 308.8 990.1)" fill="#a84535" opacity="0.45"/><ellipse cx="307.1" cy="1007.3" rx="1.9" ry="1.1" transform="rotate(151 307.1 1007.3)" fill="#a84535" opacity="0.45"/><ellipse cx="322.5" cy="1008.1" rx="1.8" ry="1.9" transform="rotate(177 322.5 1008.1)" fill="#a84535" opacity="0.45"/><ellipse cx="288.8" cy="970.4" rx="1.7" ry="1.7" transform="rotate(73 288.8 970.4)" fill="#a84535" opacity="0.45"/></g></svg>
<rect x="337.4" y="964.2" width="71.2" height="48.4" fill="#d3bd97" filter="url(#tex)"/>
<svg x="337.4" y="964.2" width="71.2" height="48.4" viewBox="337.4 964.2 71.2 48.4" overflow="hidden"><g filter="url(#blur3)"><ellipse cx="356.8" cy="968.8" rx="6.2" ry="3.1" transform="rotate(131 356.8 968.8)" fill="#8a5a35" opacity="0.4"/><ellipse cx="362.8" cy="968.3" rx="6.4" ry="2.0" transform="rotate(83 362.8 968.3)" fill="#8a5a35" opacity="0.4"/><ellipse cx="383.9" cy="996.1" rx="7.6" ry="3.7" transform="rotate(76 383.9 996.1)" fill="#8a5a35" opacity="0.4"/></g><g filter="url(#blur05)"><ellipse cx="372.4" cy="970.9" rx="2.9" ry="1.6" transform="rotate(178 372.4 970.9)" fill="#553018" opacity="0.45"/><ellipse cx="357.5" cy="987.0" rx="1.7" ry="1.6" transform="rotate(111 357.5 987.0)" fill="#553018" opacity="0.45"/><ellipse cx="374.0" cy="970.3" rx="2.8" ry="1.2" transform="rotate(96 374.0 970.3)" fill="#553018" opacity="0.45"/><ellipse cx="397.0" cy="1000.5" rx="1.9" ry="1.7" transform="rotate(168 397.0 1000.5)" fill="#553018" opacity="0.45"/><ellipse cx="379.2" cy="1000.5" rx="2.2" ry="1.2" transform="rotate(30 379.2 1000.5)" fill="#553018" opacity="0.45"/></g></svg>
<rect x="408.6" y="964.2" width="72.4" height="48.4" fill="#d9c7a2" filter="url(#tex)"/>
<svg x="408.6" y="964.2" width="72.4" height="48.4" viewBox="408.6 964.2 72.4 48.4" overflow="hidden"><g filter="url(#blur3)"><ellipse cx="449.0" cy="1002.0" rx="5.2" ry="3.1" transform="rotate(77 449.0 1002.0)" fill="#8a6040" opacity="0.3"/></g><g filter="url(#blur05)"><ellipse cx="470.0" cy="998.7" rx="2.5" ry="1.9" transform="rotate(41 470.0 998.7)" fill="#553018" opacity="0.45"/><ellipse cx="431.9" cy="995.1" rx="2.0" ry="1.3" transform="rotate(9 431.9 995.1)" fill="#553018" opacity="0.45"/></g></svg>
<rect x="124.6" y="965.2" width="355.4" height="46.4" fill="none" stroke="#1c1611" stroke-width="2.2"/>
<line x1="195.0" y1="964.2" x2="195.0" y2="1012.6" stroke="#1c1611" stroke-width="2.4"/>
<line x1="265.7" y1="964.2" x2="265.7" y2="1012.6" stroke="#1c1611" stroke-width="2.4"/>
<line x1="337.4" y1="964.2" x2="337.4" y2="1012.6" stroke="#1c1611" stroke-width="2.4"/>
<line x1="408.6" y1="964.2" x2="408.6" y2="1012.6" stroke="#1c1611" stroke-width="2.4"/>
<rect x="125.0" y="1014.0" width="354.0" height="71.5" fill="#ddd5db"/>
<rect x="125.0" y="1080.5" width="354.0" height="5" fill="#ebe5ea" opacity="0.7"/>
<circle cx="159.5" cy="1049.7" r="33.2" fill="url(#rimg)" stroke="#aaa2aa" stroke-width="0.9"/>
<circle cx="160.0" cy="1049.0" r="31.0" fill="url(#wallg)"/>
<circle cx="159.2" cy="1050.4" r="28.8" fill="#cc8ca3" filter="url(#mot)"/>
<circle cx="159.2" cy="1050.4" r="28.8" fill="url(#lit)"/>
<circle cx="231.2" cy="1049.7" r="33.2" fill="url(#rimg)" stroke="#aaa2aa" stroke-width="0.9"/>
<circle cx="231.7" cy="1049.0" r="31.0" fill="url(#wallg)"/>
<circle cx="230.9" cy="1050.4" r="28.8" fill="#cb88a0" filter="url(#mot)"/>
<circle cx="230.9" cy="1050.4" r="28.8" fill="url(#lit)"/>
<circle cx="301.6" cy="1049.7" r="33.2" fill="url(#rimg)" stroke="#aaa2aa" stroke-width="0.9"/>
<circle cx="302.1" cy="1049.0" r="31.0" fill="url(#wallg)"/>
<circle cx="301.3" cy="1050.4" r="28.8" fill="#cd8ca3" filter="url(#mot)"/>
<circle cx="301.3" cy="1050.4" r="28.8" fill="url(#lit)"/>
<circle cx="371.9" cy="1049.7" r="33.2" fill="url(#rimg)" stroke="#aaa2aa" stroke-width="0.9"/>
<circle cx="372.4" cy="1049.0" r="31.0" fill="url(#wallg)"/>
<circle cx="371.6" cy="1050.4" r="28.8" fill="#d1abba" filter="url(#mot)"/>
<circle cx="371.6" cy="1050.4" r="28.8" fill="url(#lit)"/>
<circle cx="442.9" cy="1049.7" r="33.2" fill="url(#rimg)" stroke="#aaa2aa" stroke-width="0.9"/>
<circle cx="443.4" cy="1049.0" r="31.0" fill="url(#wallg)"/>
<circle cx="442.6" cy="1050.4" r="28.8" fill="#d4c9d1" filter="url(#motl)"/>
<circle cx="442.6" cy="1050.4" r="28.8" fill="url(#lit)"/>
<line x1="128.6" y1="1269.70" x2="481.0" y2="1269.70" stroke="#d9d9d9" stroke-width="1.4"/>
<line x1="128.6" y1="1225.10" x2="481.0" y2="1225.10" stroke="#d9d9d9" stroke-width="1.4"/>
<line x1="128.6" y1="1180.50" x2="481.0" y2="1180.50" stroke="#d9d9d9" stroke-width="1.4"/>
<line x1="128.6" y1="1135.90" x2="481.0" y2="1135.90" stroke="#d9d9d9" stroke-width="1.4"/>
<line x1="128.6" y1="1091.30" x2="481.0" y2="1091.30" stroke="#d9d9d9" stroke-width="1.4"/>
<rect x="141.10" y="1130.95" width="47.60" height="138.75" fill="#dae3f3" stroke="#262626" stroke-width="1.4"/>
<rect x="211.70" y="1126.85" width="46.30" height="142.85" fill="#b4c7e7" stroke="#262626" stroke-width="1.4"/>
<rect x="281.70" y="1116.05" width="46.30" height="153.65" fill="#8faadc" stroke="#262626" stroke-width="1.4"/>
<rect x="352.30" y="1170.35" width="46.30" height="99.35" fill="#4472c4" stroke="#262626" stroke-width="1.4"/>
<rect x="421.30" y="1209.65" width="47.40" height="60.05" fill="#ffffff" stroke="#262626" stroke-width="1.4"/>
<path d="M161.00,1119.40H168.00M164.50,1119.40V1140.30M161.00,1140.30H168.00" stroke="#1a1a1a" stroke-width="1.3" fill="none"/>
<path d="M231.00,1118.10H238.00M234.50,1118.10V1134.90M231.00,1134.90H238.00" stroke="#1a1a1a" stroke-width="1.3" fill="none"/>
<path d="M301.60,1103.70H308.60M305.10,1103.70V1126.80M301.60,1126.80H308.60" stroke="#1a1a1a" stroke-width="1.3" fill="none"/>
<path d="M371.70,1161.50H378.70M375.20,1161.50V1177.80M371.70,1177.80H378.70" stroke="#1a1a1a" stroke-width="1.3" fill="none"/>
<path d="M441.50,1206.30H448.50M445.00,1206.30V1210.40M441.50,1210.40H448.50" stroke="#1a1a1a" stroke-width="1.3" fill="none"/>
<text x="98.74" y="1276.02" font-size="21" fill="#000">0</text>
<text x="81.29" y="1231.42" font-size="21" fill="#000">.05</text>
<text x="81.44" y="1186.82" font-size="21" fill="#000">0.1</text>
<text x="81.29" y="1142.12" font-size="21" fill="#000">.15</text>
<text x="81.46" y="1097.62" font-size="21" fill="#000">0.2</text>
<text x="354.42" y="1161.30" font-size="24.0" stroke="#000" stroke-width="0.7">*</text><text x="366.22" y="1161.30" font-size="24.0" stroke="#000" stroke-width="0.7">*</text><text x="378.02" y="1161.30" font-size="24.0" stroke="#000" stroke-width="0.7">*</text><text x="389.82" y="1161.30" font-size="24.0" stroke="#000" stroke-width="0.7">*</text>
<text x="423.72" y="1202.80" font-size="24.0" stroke="#000" stroke-width="0.7">*</text><text x="435.52" y="1202.80" font-size="24.0" stroke="#000" stroke-width="0.7">*</text><text x="447.32" y="1202.80" font-size="24.0" stroke="#000" stroke-width="0.7">*</text><text x="459.12" y="1202.80" font-size="24.0" stroke="#000" stroke-width="0.7">*</text>
<text x="158.96" y="1301.26" font-size="21" fill="#000">0</text>
<text x="219.41" y="1301.26" font-size="21" fill="#000">0.1</text>
<text x="299.78" y="1301.26" font-size="21" fill="#000">1</text>
<text x="363.34" y="1301.26" font-size="21" fill="#000">10</text>
<text x="439.16" y="1301.26" font-size="21" fill="#000">0</text>
<line x1="140.3" y1="1311.80" x2="403.4" y2="1311.80" stroke="#000" stroke-width="2"/>
<text x="249.67" y="1337.37" font-size="23.5" textLength="44.07" lengthAdjust="spacingAndGlyphs" fill="#000">+AA</text>
<text transform="translate(27.90,1278.57) rotate(-90)" font-size="31">Absorbance</text>
<text transform="translate(64.00,1242.99) rotate(-90)" font-size="31">550 nm</text>
<text x="517.43" y="957.30" font-size="37" font-weight="bold" textLength="94.49" lengthAdjust="spacingAndGlyphs" fill="#000">Dwn2</text>
<rect x="519.8" y="963.8" width="70.3" height="49.0" fill="#d8c0a0" filter="url(#tex)"/>
<svg x="519.8" y="963.8" width="70.3" height="49.0" viewBox="519.8 963.8 70.3 49.0" overflow="hidden"><g filter="url(#blur3)"><ellipse cx="560.8" cy="997.9" rx="4.9" ry="2.8" transform="rotate(122 560.8 997.9)" fill="#d6684a" opacity="0.4"/><ellipse cx="534.6" cy="987.2" rx="5.5" ry="2.0" transform="rotate(25 534.6 987.2)" fill="#d6684a" opacity="0.4"/><ellipse cx="584.6" cy="1009.4" rx="7.8" ry="3.5" transform="rotate(138 584.6 1009.4)" fill="#d6684a" opacity="0.4"/><ellipse cx="525.6" cy="970.5" rx="4.8" ry="2.5" transform="rotate(156 525.6 970.5)" fill="#d6684a" opacity="0.4"/><ellipse cx="562.2" cy="978.2" rx="9.1" ry="2.8" transform="rotate(58 562.2 978.2)" fill="#d6684a" opacity="0.4"/><ellipse cx="548.7" cy="983.6" rx="5.6" ry="2.3" transform="rotate(77 548.7 983.6)" fill="#d6684a" opacity="0.4"/><ellipse cx="550.4" cy="990.6" rx="8.0" ry="4.0" transform="rotate(1 550.4 990.6)" fill="#d6684a" opacity="0.4"/><ellipse cx="523.9" cy="1007.2" rx="7.2" ry="2.2" transform="rotate(166 523.9 1007.2)" fill="#d6684a" opacity="0.4"/><ellipse cx="564.7" cy="991.9" rx="6.5" ry="1.6" transform="rotate(136 564.7 991.9)" fill="#d6684a" opacity="0.4"/><ellipse cx="569.9" cy="994.3" rx="4.9" ry="4.0" transform="rotate(157 569.9 994.3)" fill="#d6684a" opacity="0.4"/><ellipse cx="554.5" cy="969.0" rx="4.6" ry="3.0" transform="rotate(152 554.5 969.0)" fill="#d6684a" opacity="0.4"/><ellipse cx="526.1" cy="966.1" rx="7.6" ry="1.5" transform="rotate(139 526.1 966.1)" fill="#d6684a" opacity="0.4"/></g><g filter="url(#blur05)"><ellipse cx="523.0" cy="1009.6" rx="3.3" ry="0.6" transform="rotate(149 523.0 1009.6)" fill="#c8583e" opacity="0.45"/><ellipse cx="577.5" cy="993.1" rx="3.1" ry="0.7" transform="rotate(55 577.5 993.1)" fill="#c8583e" opacity="0.45"/><ellipse cx="550.5" cy="1000.3" rx="5.3" ry="0.7" transform="rotate(121 550.5 1000.3)" fill="#c8583e" opacity="0.45"/><ellipse cx="542.9" cy="995.6" rx="4.7" ry="0.5" transform="rotate(116 542.9 995.6)" fill="#c8583e" opacity="0.45"/><ellipse cx="545.7" cy="977.2" rx="6.0" ry="0.8" transform="rotate(91 545.7 977.2)" fill="#c8583e" opacity="0.45"/><ellipse cx="586.1" cy="979.1" rx="3.1" ry="0.6" transform="rotate(36 586.1 979.1)" fill="#c8583e" opacity="0.45"/><ellipse cx="572.5" cy="1006.6" rx="5.9" ry="0.6" transform="rotate(70 572.5 1006.6)" fill="#c8583e" opacity="0.45"/><ellipse cx="550.8" cy="1003.6" rx="4.8" ry="0.6" transform="rotate(33 550.8 1003.6)" fill="#c8583e" opacity="0.45"/></g></svg>
<rect x="590.1" y="963.8" width="70.7" height="49.0" fill="#d8c0a0" filter="url(#tex)"/>
<svg x="590.1" y="963.8" width="70.7" height="49.0" viewBox="590.1 963.8 70.7 49.0" overflow="hidden"><g filter="url(#blur3)"><ellipse cx="608.6" cy="988.4" rx="4.7" ry="1.9" transform="rotate(44 608.6 988.4)" fill="#d07050" opacity="0.35"/><ellipse cx="613.9" cy="980.9" rx="9.8" ry="3.0" transform="rotate(128 613.9 980.9)" fill="#d07050" opacity="0.35"/><ellipse cx="627.0" cy="966.0" rx="6.0" ry="3.5" transform="rotate(141 627.0 966.0)" fill="#d07050" opacity="0.35"/><ellipse cx="626.9" cy="996.4" rx="8.2" ry="3.9" transform="rotate(41 626.9 996.4)" fill="#d07050" opacity="0.35"/><ellipse cx="628.1" cy="974.5" rx="6.7" ry="3.3" transform="rotate(164 628.1 974.5)" fill="#d07050" opacity="0.35"/></g><g filter="url(#blur05)"><ellipse cx="647.3" cy="994.7" rx="3.1" ry="0.7" transform="rotate(22 647.3 994.7)" fill="#c86048" opacity="0.45"/><ellipse cx="611.0" cy="968.7" rx="3.8" ry="0.6" transform="rotate(20 611.0 968.7)" fill="#c86048" opacity="0.45"/><ellipse cx="601.6" cy="977.8" rx="4.7" ry="0.7" transform="rotate(64 601.6 977.8)" fill="#c86048" opacity="0.45"/></g></svg>
<rect x="660.8" y="963.8" width="70.7" height="49.0" fill="#d8c0a0" filter="url(#tex)"/>
<svg x="660.8" y="963.8" width="70.7" height="49.0" viewBox="660.8 963.8 70.7 49.0" overflow="hidden"><g filter="url(#blur3)"><ellipse cx="728.0" cy="974.0" rx="7.8" ry="1.8" transform="rotate(123 728.0 974.0)" fill="#d06a50" opacity="0.35"/><ellipse cx="720.1" cy="998.8" rx="8.7" ry="3.4" transform="rotate(29 720.1 998.8)" fill="#d06a50" opacity="0.35"/><ellipse cx="681.9" cy="983.0" rx="6.7" ry="1.5" transform="rotate(115 681.9 983.0)" fill="#d06a50" opacity="0.35"/><ellipse cx="689.0" cy="990.8" rx="9.3" ry="3.0" transform="rotate(173 689.0 990.8)" fill="#d06a50" opacity="0.35"/><ellipse cx="729.5" cy="1007.3" rx="4.7" ry="2.3" transform="rotate(77 729.5 1007.3)" fill="#d06a50" opacity="0.35"/><ellipse cx="679.1" cy="975.4" rx="6.0" ry="3.3" transform="rotate(89 679.1 975.4)" fill="#d06a50" opacity="0.35"/><ellipse cx="694.7" cy="1002.8" rx="4.9" ry="3.3" transform="rotate(150 694.7 1002.8)" fill="#d06a50" opacity="0.35"/></g><g filter="url(#blur05)"><ellipse cx="714.7" cy="991.7" rx="3.9" ry="0.7" transform="rotate(127 714.7 991.7)" fill="#c85840" opacity="0.45"/><ellipse cx="708.3" cy="975.9" rx="4.0" ry="0.7" transform="rotate(168 708.3 975.9)" fill="#c85840" opacity="0.45"/><ellipse cx="703.8" cy="1008.7" rx="4.5" ry="0.8" transform="rotate(54 703.8 1008.7)" fill="#c85840" opacity="0.45"/><ellipse cx="721.6" cy="1009.2" rx="3.3" ry="0.9" transform="rotate(56 721.6 1009.2)" fill="#c85840" opacity="0.45"/></g></svg>
<rect x="731.5" y="963.8" width="72.1" height="49.0" fill="#d8c0a0" filter="url(#tex)"/>
<svg x="731.5" y="963.8" width="72.1" height="49.0" viewBox="731.5 963.8 72.1 49.0" overflow="hidden"><g filter="url(#blur3)"><ellipse cx="750.1" cy="990.0" rx="8.4" ry="3.7" transform="rotate(53 750.1 990.0)" fill="#d08060" opacity="0.3"/><ellipse cx="783.9" cy="1007.7" rx="9.9" ry="3.7" transform="rotate(124 783.9 1007.7)" fill="#d08060" opacity="0.3"/><ellipse cx="770.3" cy="977.4" rx="4.8" ry="2.3" transform="rotate(9 770.3 977.4)" fill="#d08060" opacity="0.3"/><ellipse cx="782.7" cy="988.1" rx="9.9" ry="2.3" transform="rotate(131 782.7 988.1)" fill="#d08060" opacity="0.3"/><ellipse cx="789.2" cy="970.8" rx="4.9" ry="2.6" transform="rotate(143 789.2 970.8)" fill="#d08060" opacity="0.3"/></g><g filter="url(#blur05)"><ellipse cx="794.3" cy="1008.0" rx="2.6" ry="0.8" transform="rotate(35 794.3 1008.0)" fill="#c86a50" opacity="0.45"/><ellipse cx="746.5" cy="987.3" rx="3.6" ry="0.6" transform="rotate(4 746.5 987.3)" fill="#c86a50" opacity="0.45"/></g></svg>
<rect x="803.6" y="963.8" width="73.9" height="49.0" fill="#dcc8a8" filter="url(#tex)"/>
<svg x="803.6" y="963.8" width="73.9" height="49.0" viewBox="803.6 963.8 73.9 49.0" overflow="hidden"><g filter="url(#blur3)"></g><g filter="url(#blur05)"></g></svg>
<rect x="520.8" y="964.8" width="355.7" height="47.0" fill="none" stroke="#1c1611" stroke-width="2.2"/>
<line x1="590.1" y1="963.8" x2="590.1" y2="1012.8" stroke="#1c1611" stroke-width="2.4"/>
<line x1="660.8" y1="963.8" x2="660.8" y2="1012.8" stroke="#1c1611" stroke-width="2.4"/>
<line x1="731.5" y1="963.8" x2="731.5" y2="1012.8" stroke="#1c1611" stroke-width="2.4"/>
<line x1="803.6" y1="963.8" x2="803.6" y2="1012.8" stroke="#1c1611" stroke-width="2.4"/>
<rect x="519.8" y="1013.6" width="356.7" height="69.1" fill="#e1d9de"/>
<rect x="519.8" y="1077.7" width="356.7" height="5" fill="#ebe5ea" opacity="0.7"/>
<circle cx="556.6" cy="1048.5" r="33.2" fill="url(#rimg)" stroke="#aaa2aa" stroke-width="0.9"/>
<circle cx="557.1" cy="1047.8" r="31.0" fill="url(#wallg)"/>
<circle cx="556.3" cy="1049.2" r="28.8" fill="#c98ca4" filter="url(#mot)"/>
<circle cx="556.3" cy="1049.2" r="28.8" fill="url(#lit)"/>
<circle cx="627.4" cy="1048.5" r="33.2" fill="url(#rimg)" stroke="#aaa2aa" stroke-width="0.9"/>
<circle cx="627.9" cy="1047.8" r="31.0" fill="url(#wallg)"/>
<circle cx="627.1" cy="1049.2" r="28.8" fill="#cc94ab" filter="url(#mot)"/>
<circle cx="627.1" cy="1049.2" r="28.8" fill="url(#lit)"/>
<circle cx="697.5" cy="1048.5" r="33.2" fill="url(#rimg)" stroke="#aaa2aa" stroke-width="0.9"/>
<circle cx="698.0" cy="1047.8" r="31.0" fill="url(#wallg)"/>
<circle cx="697.2" cy="1049.2" r="28.8" fill="#cd96ad" filter="url(#mot)"/>
<circle cx="697.2" cy="1049.2" r="28.8" fill="url(#lit)"/>
<circle cx="769.2" cy="1048.5" r="33.2" fill="url(#rimg)" stroke="#aaa2aa" stroke-width="0.9"/>
<circle cx="769.7" cy="1047.8" r="31.0" fill="url(#wallg)"/>
<circle cx="768.9" cy="1049.2" r="28.8" fill="#ce99af" filter="url(#mot)"/>
<circle cx="768.9" cy="1049.2" r="28.8" fill="url(#lit)"/>
<circle cx="840.8" cy="1048.5" r="33.2" fill="url(#rimg)" stroke="#aaa2aa" stroke-width="0.9"/>
<circle cx="841.3" cy="1047.8" r="31.0" fill="url(#wallg)"/>
<circle cx="840.5" cy="1049.2" r="28.8" fill="#d9ccd4" filter="url(#motl)"/>
<circle cx="840.5" cy="1049.2" r="28.8" fill="url(#lit)"/>
<line x1="519.8" y1="1270.00" x2="872.0" y2="1270.00" stroke="#d9d9d9" stroke-width="1.4"/>
<line x1="519.8" y1="1225.38" x2="872.0" y2="1225.38" stroke="#d9d9d9" stroke-width="1.4"/>
<line x1="519.8" y1="1180.75" x2="872.0" y2="1180.75" stroke="#d9d9d9" stroke-width="1.4"/>
<line x1="519.8" y1="1136.12" x2="872.0" y2="1136.12" stroke="#d9d9d9" stroke-width="1.4"/>
<line x1="519.8" y1="1091.50" x2="872.0" y2="1091.50" stroke="#d9d9d9" stroke-width="1.4"/>
<rect x="533.00" y="1120.85" width="46.80" height="149.15" fill="#dae3f3" stroke="#262626" stroke-width="1.4"/>
<rect x="603.40" y="1156.05" width="45.80" height="113.95" fill="#b4c7e7" stroke="#262626" stroke-width="1.4"/>
<rect x="673.10" y="1150.75" width="46.80" height="119.25" fill="#8faadc" stroke="#262626" stroke-width="1.4"/>
<rect x="743.50" y="1161.25" width="45.20" height="108.75" fill="#4472c4" stroke="#262626" stroke-width="1.4"/>
<rect x="812.60" y="1212.05" width="46.80" height="57.95" fill="#ffffff" stroke="#262626" stroke-width="1.4"/>
<path d="M552.90,1111.00H559.90M556.40,1111.00V1127.70M552.90,1127.70H559.90" stroke="#1a1a1a" stroke-width="1.3" fill="none"/>
<path d="M622.80,1147.20H629.80M626.30,1147.20V1161.90M622.80,1161.90H629.80" stroke="#1a1a1a" stroke-width="1.3" fill="none"/>
<path d="M693.00,1144.60H700.00M696.50,1144.60V1156.00M693.00,1156.00H700.00" stroke="#1a1a1a" stroke-width="1.3" fill="none"/>
<path d="M762.60,1155.00H769.60M766.10,1155.00V1167.40M762.60,1167.40H769.60" stroke="#1a1a1a" stroke-width="1.3" fill="none"/>
<path d="M832.50,1207.50H839.50M836.00,1207.50V1215.60M832.50,1215.60H839.50" stroke="#1a1a1a" stroke-width="1.3" fill="none"/>
<text x="604.12" y="1146.50" font-size="24.0" stroke="#000" stroke-width="0.7">*</text><text x="615.92" y="1146.50" font-size="24.0" stroke="#000" stroke-width="0.7">*</text><text x="627.72" y="1146.50" font-size="24.0" stroke="#000" stroke-width="0.7">*</text><text x="639.52" y="1146.50" font-size="24.0" stroke="#000" stroke-width="0.7">*</text>
<text x="674.42" y="1138.30" font-size="24.0" stroke="#000" stroke-width="0.7">*</text><text x="686.22" y="1138.30" font-size="24.0" stroke="#000" stroke-width="0.7">*</text><text x="698.02" y="1138.30" font-size="24.0" stroke="#000" stroke-width="0.7">*</text><text x="709.82" y="1138.30" font-size="24.0" stroke="#000" stroke-width="0.7">*</text>
<text x="743.52" y="1156.30" font-size="24.0" stroke="#000" stroke-width="0.7">*</text><text x="755.32" y="1156.30" font-size="24.0" stroke="#000" stroke-width="0.7">*</text><text x="767.12" y="1156.30" font-size="24.0" stroke="#000" stroke-width="0.7">*</text><text x="778.92" y="1156.30" font-size="24.0" stroke="#000" stroke-width="0.7">*</text>
<text x="813.62" y="1207.40" font-size="24.0" stroke="#000" stroke-width="0.7">*</text><text x="825.42" y="1207.40" font-size="24.0" stroke="#000" stroke-width="0.7">*</text><text x="837.22" y="1207.40" font-size="24.0" stroke="#000" stroke-width="0.7">*</text><text x="849.02" y="1207.40" font-size="24.0" stroke="#000" stroke-width="0.7">*</text>
<text x="550.76" y="1301.16" font-size="21" fill="#000">0</text>
<text x="611.11" y="1301.16" font-size="21" fill="#000">0.1</text>
<text x="689.58" y="1301.16" font-size="21" fill="#000">1</text>
<text x="754.64" y="1301.16" font-size="21" fill="#000">10</text>
<text x="829.96" y="1301.16" font-size="21" fill="#000">0</text>
<line x1="532.8" y1="1311.10" x2="796.0" y2="1311.10" stroke="#000" stroke-width="2"/>
<text x="642.67" y="1336.97" font-size="23.5" textLength="44.07" lengthAdjust="spacingAndGlyphs" fill="#000">+AA</text>
<text x="922.01" y="957.09" font-size="37" font-weight="bold" textLength="94.97" lengthAdjust="spacingAndGlyphs" fill="#000">Dwn3</text>
<rect x="917.1" y="965.5" width="70.2" height="46.9" fill="#d8bf99" filter="url(#tex)"/>
<svg x="917.1" y="965.5" width="70.2" height="46.9" viewBox="917.1 965.5 70.2 46.9" overflow="hidden"><g filter="url(#blur3)"><ellipse cx="928.9" cy="987.4" rx="5.0" ry="2.8" transform="rotate(95 928.9 987.4)" fill="#dc7050" opacity="0.42"/><ellipse cx="936.9" cy="982.9" rx="5.5" ry="3.6" transform="rotate(3 936.9 982.9)" fill="#dc7050" opacity="0.42"/><ellipse cx="949.6" cy="993.2" rx="7.4" ry="2.4" transform="rotate(121 949.6 993.2)" fill="#dc7050" opacity="0.42"/><ellipse cx="973.5" cy="977.5" rx="5.2" ry="3.8" transform="rotate(73 973.5 977.5)" fill="#dc7050" opacity="0.42"/><ellipse cx="960.7" cy="972.6" rx="8.1" ry="4.0" transform="rotate(176 960.7 972.6)" fill="#dc7050" opacity="0.42"/><ellipse cx="970.2" cy="985.6" rx="9.2" ry="3.1" transform="rotate(2 970.2 985.6)" fill="#dc7050" opacity="0.42"/><ellipse cx="957.3" cy="979.1" rx="9.2" ry="4.0" transform="rotate(162 957.3 979.1)" fill="#dc7050" opacity="0.42"/><ellipse cx="943.3" cy="997.9" rx="6.9" ry="3.8" transform="rotate(49 943.3 997.9)" fill="#dc7050" opacity="0.42"/><ellipse cx="976.7" cy="995.4" rx="5.2" ry="2.1" transform="rotate(159 976.7 995.4)" fill="#dc7050" opacity="0.42"/><ellipse cx="939.2" cy="1007.0" rx="7.1" ry="1.8" transform="rotate(138 939.2 1007.0)" fill="#dc7050" opacity="0.42"/><ellipse cx="966.3" cy="975.5" rx="4.4" ry="1.8" transform="rotate(124 966.3 975.5)" fill="#dc7050" opacity="0.42"/><ellipse cx="971.1" cy="985.1" rx="5.4" ry="1.8" transform="rotate(105 971.1 985.1)" fill="#dc7050" opacity="0.42"/></g><g filter="url(#blur05)"><ellipse cx="928.4" cy="979.7" rx="6.0" ry="0.9" transform="rotate(9 928.4 979.7)" fill="#d06048" opacity="0.45"/><ellipse cx="933.4" cy="997.4" rx="4.3" ry="0.5" transform="rotate(106 933.4 997.4)" fill="#d06048" opacity="0.45"/><ellipse cx="924.5" cy="979.0" rx="4.4" ry="0.8" transform="rotate(101 924.5 979.0)" fill="#d06048" opacity="0.45"/><ellipse cx="952.3" cy="1007.3" rx="3.0" ry="0.8" transform="rotate(71 952.3 1007.3)" fill="#d06048" opacity="0.45"/><ellipse cx="957.5" cy="1005.0" rx="3.4" ry="0.7" transform="rotate(11 957.5 1005.0)" fill="#d06048" opacity="0.45"/><ellipse cx="964.5" cy="988.7" rx="2.5" ry="0.7" transform="rotate(171 964.5 988.7)" fill="#d06048" opacity="0.45"/></g></svg>
<rect x="987.3" y="965.5" width="66.9" height="46.9" fill="#d8bf99" filter="url(#tex)"/>
<svg x="987.3" y="965.5" width="66.9" height="46.9" viewBox="987.3 965.5 66.9 46.9" overflow="hidden"><g filter="url(#blur3)"><ellipse cx="1007.2" cy="971.3" rx="8.8" ry="1.7" transform="rotate(111 1007.2 971.3)" fill="#dc6a48" opacity="0.45"/><ellipse cx="1049.9" cy="987.6" rx="5.5" ry="2.3" transform="rotate(29 1049.9 987.6)" fill="#dc6a48" opacity="0.45"/><ellipse cx="1020.8" cy="988.0" rx="5.8" ry="3.8" transform="rotate(53 1020.8 988.0)" fill="#dc6a48" opacity="0.45"/><ellipse cx="1034.2" cy="979.7" rx="7.3" ry="3.2" transform="rotate(151 1034.2 979.7)" fill="#dc6a48" opacity="0.45"/><ellipse cx="1014.3" cy="984.8" rx="6.2" ry="3.6" transform="rotate(152 1014.3 984.8)" fill="#dc6a48" opacity="0.45"/><ellipse cx="1015.7" cy="996.1" rx="7.1" ry="2.8" transform="rotate(107 1015.7 996.1)" fill="#dc6a48" opacity="0.45"/><ellipse cx="989.7" cy="989.9" rx="7.7" ry="3.7" transform="rotate(170 989.7 989.9)" fill="#dc6a48" opacity="0.45"/><ellipse cx="1020.5" cy="1004.6" rx="6.0" ry="1.6" transform="rotate(147 1020.5 1004.6)" fill="#dc6a48" opacity="0.45"/><ellipse cx="1014.9" cy="1008.9" rx="4.5" ry="2.5" transform="rotate(113 1014.9 1008.9)" fill="#dc6a48" opacity="0.45"/><ellipse cx="1038.8" cy="970.0" rx="8.1" ry="2.4" transform="rotate(151 1038.8 970.0)" fill="#dc6a48" opacity="0.45"/><ellipse cx="1050.1" cy="990.9" rx="8.6" ry="1.7" transform="rotate(44 1050.1 990.9)" fill="#dc6a48" opacity="0.45"/><ellipse cx="1020.6" cy="1008.5" rx="4.7" ry="3.5" transform="rotate(48 1020.6 1008.5)" fill="#dc6a48" opacity="0.45"/><ellipse cx="1052.2" cy="976.3" rx="7.5" ry="2.3" transform="rotate(87 1052.2 976.3)" fill="#dc6a48" opacity="0.45"/></g><g filter="url(#blur05)"><ellipse cx="1041.6" cy="971.4" rx="3.8" ry="0.9" transform="rotate(46 1041.6 971.4)" fill="#d05840" opacity="0.45"/><ellipse cx="1046.3" cy="981.6" rx="3.1" ry="0.6" transform="rotate(54 1046.3 981.6)" fill="#d05840" opacity="0.45"/><ellipse cx="1023.6" cy="972.3" rx="4.6" ry="0.7" transform="rotate(12 1023.6 972.3)" fill="#d05840" opacity="0.45"/><ellipse cx="1016.4" cy="974.0" rx="2.5" ry="0.8" transform="rotate(24 1016.4 974.0)" fill="#d05840" opacity="0.45"/><ellipse cx="1032.3" cy="987.3" rx="4.8" ry="0.8" transform="rotate(31 1032.3 987.3)" fill="#d05840" opacity="0.45"/><ellipse cx="1012.4" cy="1005.6" rx="4.6" ry="0.7" transform="rotate(4 1012.4 1005.6)" fill="#d05840" opacity="0.45"/></g></svg>
<rect x="1054.2" y="965.5" width="68.6" height="46.9" fill="#d8bf99" filter="url(#tex)"/>
<svg x="1054.2" y="965.5" width="68.6" height="46.9" viewBox="1054.2 965.5 68.6 46.9" overflow="hidden"><g filter="url(#blur3)"><ellipse cx="1107.2" cy="980.8" rx="9.0" ry="2.1" transform="rotate(142 1107.2 980.8)" fill="#dc7050" opacity="0.42"/><ellipse cx="1094.7" cy="996.6" rx="6.7" ry="3.6" transform="rotate(70 1094.7 996.6)" fill="#dc7050" opacity="0.42"/><ellipse cx="1091.0" cy="1009.8" rx="4.8" ry="1.5" transform="rotate(34 1091.0 1009.8)" fill="#dc7050" opacity="0.42"/><ellipse cx="1098.2" cy="987.0" rx="9.3" ry="1.6" transform="rotate(99 1098.2 987.0)" fill="#dc7050" opacity="0.42"/><ellipse cx="1112.9" cy="1001.1" rx="8.8" ry="2.5" transform="rotate(162 1112.9 1001.1)" fill="#dc7050" opacity="0.42"/><ellipse cx="1104.5" cy="984.6" rx="7.2" ry="2.8" transform="rotate(118 1104.5 984.6)" fill="#dc7050" opacity="0.42"/><ellipse cx="1089.3" cy="980.5" rx="7.4" ry="3.8" transform="rotate(82 1089.3 980.5)" fill="#dc7050" opacity="0.42"/><ellipse cx="1114.8" cy="1007.7" rx="7.3" ry="3.5" transform="rotate(114 1114.8 1007.7)" fill="#dc7050" opacity="0.42"/><ellipse cx="1069.2" cy="997.8" rx="7.7" ry="2.9" transform="rotate(149 1069.2 997.8)" fill="#dc7050" opacity="0.42"/><ellipse cx="1112.1" cy="998.3" rx="5.8" ry="3.8" transform="rotate(53 1112.1 998.3)" fill="#dc7050" opacity="0.42"/><ellipse cx="1060.4" cy="974.6" rx="4.9" ry="2.8" transform="rotate(141 1060.4 974.6)" fill="#dc7050" opacity="0.42"/><ellipse cx="1119.6" cy="972.4" rx="9.4" ry="2.3" transform="rotate(94 1119.6 972.4)" fill="#dc7050" opacity="0.42"/></g><g filter="url(#blur05)"><ellipse cx="1069.5" cy="1009.1" rx="5.9" ry="0.6" transform="rotate(47 1069.5 1009.1)" fill="#d06048" opacity="0.45"/><ellipse cx="1086.7" cy="981.3" rx="4.5" ry="0.8" transform="rotate(166 1086.7 981.3)" fill="#d06048" opacity="0.45"/><ellipse cx="1080.0" cy="997.8" rx="3.2" ry="0.8" transform="rotate(74 1080.0 997.8)" fill="#d06048" opacity="0.45"/><ellipse cx="1086.3" cy="986.3" rx="5.0" ry="0.5" transform="rotate(80 1086.3 986.3)" fill="#d06048" opacity="0.45"/><ellipse cx="1110.1" cy="974.8" rx="5.5" ry="0.7" transform="rotate(58 1110.1 974.8)" fill="#d06048" opacity="0.45"/></g></svg>
<rect x="1122.8" y="965.5" width="68.2" height="46.9" fill="#d8bf99" filter="url(#tex)"/>
<svg x="1122.8" y="965.5" width="68.2" height="46.9" viewBox="1122.8 965.5 68.2 46.9" overflow="hidden"><g filter="url(#blur3)"><ellipse cx="1141.5" cy="988.8" rx="7.8" ry="3.2" transform="rotate(106 1141.5 988.8)" fill="#dc6a48" opacity="0.45"/><ellipse cx="1156.5" cy="988.6" rx="7.5" ry="3.6" transform="rotate(113 1156.5 988.6)" fill="#dc6a48" opacity="0.45"/><ellipse cx="1174.3" cy="1004.8" rx="6.8" ry="2.8" transform="rotate(122 1174.3 1004.8)" fill="#dc6a48" opacity="0.45"/><ellipse cx="1178.3" cy="999.8" rx="5.1" ry="1.9" transform="rotate(70 1178.3 999.8)" fill="#dc6a48" opacity="0.45"/><ellipse cx="1134.0" cy="976.5" rx="7.4" ry="2.4" transform="rotate(155 1134.0 976.5)" fill="#dc6a48" opacity="0.45"/><ellipse cx="1131.0" cy="991.2" rx="5.6" ry="2.8" transform="rotate(96 1131.0 991.2)" fill="#dc6a48" opacity="0.45"/><ellipse cx="1168.7" cy="1010.2" rx="6.1" ry="3.5" transform="rotate(64 1168.7 1010.2)" fill="#dc6a48" opacity="0.45"/><ellipse cx="1164.1" cy="984.2" rx="6.2" ry="3.2" transform="rotate(68 1164.1 984.2)" fill="#dc6a48" opacity="0.45"/><ellipse cx="1159.1" cy="1004.6" rx="8.4" ry="2.2" transform="rotate(91 1159.1 1004.6)" fill="#dc6a48" opacity="0.45"/><ellipse cx="1186.9" cy="978.7" rx="7.2" ry="2.5" transform="rotate(86 1186.9 978.7)" fill="#dc6a48" opacity="0.45"/><ellipse cx="1165.5" cy="995.5" rx="8.5" ry="3.4" transform="rotate(94 1165.5 995.5)" fill="#dc6a48" opacity="0.45"/><ellipse cx="1142.6" cy="994.4" rx="6.6" ry="3.4" transform="rotate(65 1142.6 994.4)" fill="#dc6a48" opacity="0.45"/></g><g filter="url(#blur05)"><ellipse cx="1140.5" cy="968.8" rx="5.4" ry="0.8" transform="rotate(39 1140.5 968.8)" fill="#d05840" opacity="0.45"/><ellipse cx="1179.0" cy="994.1" rx="4.6" ry="0.8" transform="rotate(43 1179.0 994.1)" fill="#d05840" opacity="0.45"/><ellipse cx="1168.6" cy="974.5" rx="3.6" ry="0.6" transform="rotate(57 1168.6 974.5)" fill="#d05840" opacity="0.45"/><ellipse cx="1155.6" cy="992.0" rx="3.9" ry="0.6" transform="rotate(149 1155.6 992.0)" fill="#d05840" opacity="0.45"/><ellipse cx="1178.2" cy="1002.5" rx="5.8" ry="0.6" transform="rotate(172 1178.2 1002.5)" fill="#d05840" opacity="0.45"/><ellipse cx="1145.1" cy="1005.1" rx="4.7" ry="0.8" transform="rotate(53 1145.1 1005.1)" fill="#d05840" opacity="0.45"/></g></svg>
<rect x="1191.0" y="965.5" width="70.4" height="46.9" fill="#dccaa6" filter="url(#tex)"/>
<svg x="1191.0" y="965.5" width="70.4" height="46.9" viewBox="1191.0 965.5 70.4 46.9" overflow="hidden"><g filter="url(#blur3)"><ellipse cx="1217.4" cy="972.0" rx="5.2" ry="2.7" transform="rotate(98 1217.4 972.0)" fill="#d09070" opacity="0.25"/></g><g filter="url(#blur05)"></g></svg>
<rect x="918.1" y="966.5" width="342.3" height="44.9" fill="none" stroke="#1c1611" stroke-width="2.2"/>
<line x1="987.3" y1="965.5" x2="987.3" y2="1012.4" stroke="#1c1611" stroke-width="2.4"/>
<line x1="1054.2" y1="965.5" x2="1054.2" y2="1012.4" stroke="#1c1611" stroke-width="2.4"/>
<line x1="1122.8" y1="965.5" x2="1122.8" y2="1012.4" stroke="#1c1611" stroke-width="2.4"/>
<line x1="1191.0" y1="965.5" x2="1191.0" y2="1012.4" stroke="#1c1611" stroke-width="2.4"/>
<rect x="918.0" y="1013.1" width="342.2" height="73.0" fill="#e4dde2"/>
<rect x="918.0" y="1081.1" width="342.2" height="5" fill="#ebe5ea" opacity="0.7"/>
<circle cx="953.0" cy="1049.7" r="33.0" fill="url(#rimg)" stroke="#aaa2aa" stroke-width="0.9"/>
<circle cx="953.5" cy="1049.0" r="30.8" fill="url(#wallg)"/>
<circle cx="952.7" cy="1050.4" r="28.6" fill="#c98ca8" filter="url(#mot)"/>
<circle cx="952.7" cy="1050.4" r="28.6" fill="url(#lit)"/>
<circle cx="1021.3" cy="1049.7" r="33.0" fill="url(#rimg)" stroke="#aaa2aa" stroke-width="0.9"/>
<circle cx="1021.8" cy="1049.0" r="30.8" fill="url(#wallg)"/>
<circle cx="1021.0" cy="1050.4" r="28.6" fill="#cc8eaa" filter="url(#mot)"/>
<circle cx="1021.0" cy="1050.4" r="28.6" fill="url(#lit)"/>
<circle cx="1088.8" cy="1049.7" r="33.0" fill="url(#rimg)" stroke="#aaa2aa" stroke-width="0.9"/>
<circle cx="1089.3" cy="1049.0" r="30.8" fill="url(#wallg)"/>
<circle cx="1088.5" cy="1050.4" r="28.6" fill="#ce91ab" filter="url(#mot)"/>
<circle cx="1088.5" cy="1050.4" r="28.6" fill="url(#lit)"/>
<circle cx="1157.8" cy="1049.7" r="33.0" fill="url(#rimg)" stroke="#aaa2aa" stroke-width="0.9"/>
<circle cx="1158.3" cy="1049.0" r="30.8" fill="url(#wallg)"/>
<circle cx="1157.5" cy="1050.4" r="28.6" fill="#ce93ac" filter="url(#mot)"/>
<circle cx="1157.5" cy="1050.4" r="28.6" fill="url(#lit)"/>
<circle cx="1226.0" cy="1049.7" r="33.0" fill="url(#rimg)" stroke="#aaa2aa" stroke-width="0.9"/>
<circle cx="1226.5" cy="1049.0" r="30.8" fill="url(#wallg)"/>
<circle cx="1225.7" cy="1050.4" r="28.6" fill="#dfd0d8" filter="url(#motl)"/>
<circle cx="1225.7" cy="1050.4" r="28.6" fill="url(#lit)"/>
<line x1="920.6" y1="1270.10" x2="1271.9" y2="1270.10" stroke="#d9d9d9" stroke-width="1.4"/>
<line x1="920.6" y1="1225.15" x2="1271.9" y2="1225.15" stroke="#d9d9d9" stroke-width="1.4"/>
<line x1="920.6" y1="1180.20" x2="1271.9" y2="1180.20" stroke="#d9d9d9" stroke-width="1.4"/>
<line x1="920.6" y1="1135.25" x2="1271.9" y2="1135.25" stroke="#d9d9d9" stroke-width="1.4"/>
<line x1="920.6" y1="1090.30" x2="1271.9" y2="1090.30" stroke="#d9d9d9" stroke-width="1.4"/>
<rect x="931.90" y="1127.05" width="47.20" height="143.05" fill="#dae3f3" stroke="#262626" stroke-width="1.4"/>
<rect x="1003.30" y="1115.35" width="45.60" height="154.75" fill="#b4c7e7" stroke="#262626" stroke-width="1.4"/>
<rect x="1073.10" y="1121.65" width="45.60" height="148.45" fill="#8faadc" stroke="#262626" stroke-width="1.4"/>
<rect x="1142.90" y="1127.35" width="47.20" height="142.75" fill="#4472c4" stroke="#262626" stroke-width="1.4"/>
<rect x="1212.80" y="1214.35" width="47.20" height="55.75" fill="#ffffff" stroke="#262626" stroke-width="1.4"/>
<path d="M952.00,1121.00H959.00M955.50,1121.00V1130.60M952.00,1130.60H959.00" stroke="#1a1a1a" stroke-width="1.3" fill="none"/>
<path d="M1022.60,1105.00H1029.60M1026.10,1105.00V1122.60M1022.60,1122.60H1029.60" stroke="#1a1a1a" stroke-width="1.3" fill="none"/>
<path d="M1092.40,1117.00H1099.40M1095.90,1117.00V1126.70M1092.40,1126.70H1099.40" stroke="#1a1a1a" stroke-width="1.3" fill="none"/>
<path d="M1163.00,1119.40H1170.00M1166.50,1119.40V1133.70M1163.00,1133.70H1170.00" stroke="#1a1a1a" stroke-width="1.3" fill="none"/>
<path d="M1232.90,1209.30H1239.90M1236.40,1209.30V1217.00M1232.90,1217.00H1239.90" stroke="#1a1a1a" stroke-width="1.3" fill="none"/>
<text x="1021.82" y="1107.10" font-size="24.0" stroke="#000" stroke-width="0.7">*</text>
<text x="1215.52" y="1211.20" font-size="24.0" stroke="#000" stroke-width="0.7">*</text><text x="1227.32" y="1211.20" font-size="24.0" stroke="#000" stroke-width="0.7">*</text><text x="1239.12" y="1211.20" font-size="24.0" stroke="#000" stroke-width="0.7">*</text><text x="1250.92" y="1211.20" font-size="24.0" stroke="#000" stroke-width="0.7">*</text>
<text x="949.66" y="1301.16" font-size="21" fill="#000">0</text>
<text x="1010.91" y="1301.16" font-size="21" fill="#000">0.1</text>
<text x="1090.68" y="1301.16" font-size="21" fill="#000">1</text>
<text x="1155.24" y="1301.16" font-size="21" fill="#000">10</text>
<text x="1230.66" y="1301.16" font-size="21" fill="#000">0</text>
<line x1="929.2" y1="1311.00" x2="1193.2" y2="1311.00" stroke="#000" stroke-width="2"/>
<text x="1039.19" y="1337.17" font-size="23.5" textLength="43.35" lengthAdjust="spacingAndGlyphs" fill="#000">+AA</text>
<text x="131.12" y="1377.20" font-size="37" font-weight="bold" textLength="94.76" lengthAdjust="spacingAndGlyphs" fill="#000">Dwn4</text>
<rect x="131.2" y="1384.8" width="71.9" height="48.1" fill="#dcc6a2" filter="url(#tex)"/>
<svg x="131.2" y="1384.8" width="71.9" height="48.1" viewBox="131.2 1384.8 71.9 48.1" overflow="hidden"><g filter="url(#blur3)"><ellipse cx="141.5" cy="1399.2" rx="6.4" ry="2.9" transform="rotate(122 141.5 1399.2)" fill="#d8583c" opacity="0.5"/><ellipse cx="184.0" cy="1395.8" rx="7.4" ry="2.7" transform="rotate(44 184.0 1395.8)" fill="#d8583c" opacity="0.5"/><ellipse cx="135.6" cy="1414.7" rx="6.7" ry="2.3" transform="rotate(108 135.6 1414.7)" fill="#d8583c" opacity="0.5"/><ellipse cx="168.8" cy="1420.4" rx="9.0" ry="2.8" transform="rotate(61 168.8 1420.4)" fill="#d8583c" opacity="0.5"/><ellipse cx="167.2" cy="1394.1" rx="5.6" ry="2.9" transform="rotate(54 167.2 1394.1)" fill="#d8583c" opacity="0.5"/><ellipse cx="174.5" cy="1406.6" rx="6.9" ry="3.9" transform="rotate(99 174.5 1406.6)" fill="#d8583c" opacity="0.5"/><ellipse cx="166.5" cy="1390.2" rx="5.0" ry="1.6" transform="rotate(1 166.5 1390.2)" fill="#d8583c" opacity="0.5"/><ellipse cx="159.7" cy="1388.5" rx="4.2" ry="1.9" transform="rotate(7 159.7 1388.5)" fill="#d8583c" opacity="0.5"/><ellipse cx="175.2" cy="1400.7" rx="4.6" ry="3.2" transform="rotate(14 175.2 1400.7)" fill="#d8583c" opacity="0.5"/><ellipse cx="157.3" cy="1425.1" rx="7.5" ry="3.1" transform="rotate(86 157.3 1425.1)" fill="#d8583c" opacity="0.5"/><ellipse cx="152.2" cy="1402.3" rx="5.3" ry="3.4" transform="rotate(69 152.2 1402.3)" fill="#d8583c" opacity="0.5"/><ellipse cx="185.9" cy="1406.8" rx="5.7" ry="3.5" transform="rotate(99 185.9 1406.8)" fill="#d8583c" opacity="0.5"/><ellipse cx="141.5" cy="1409.3" rx="8.1" ry="2.4" transform="rotate(9 141.5 1409.3)" fill="#d8583c" opacity="0.5"/></g><g filter="url(#blur05)"><ellipse cx="194.7" cy="1392.4" rx="3.1" ry="0.8" transform="rotate(124 194.7 1392.4)" fill="#c84830" opacity="0.45"/><ellipse cx="179.8" cy="1404.1" rx="5.2" ry="0.5" transform="rotate(62 179.8 1404.1)" fill="#c84830" opacity="0.45"/><ellipse cx="196.9" cy="1407.0" rx="4.6" ry="0.5" transform="rotate(180 196.9 1407.0)" fill="#c84830" opacity="0.45"/><ellipse cx="148.2" cy="1413.9" rx="4.9" ry="0.7" transform="rotate(80 148.2 1413.9)" fill="#c84830" opacity="0.45"/><ellipse cx="170.5" cy="1397.8" rx="3.3" ry="0.7" transform="rotate(11 170.5 1397.8)" fill="#c84830" opacity="0.45"/><ellipse cx="197.8" cy="1425.9" rx="5.9" ry="0.5" transform="rotate(10 197.8 1425.9)" fill="#c84830" opacity="0.45"/><ellipse cx="145.1" cy="1427.0" rx="4.2" ry="0.9" transform="rotate(67 145.1 1427.0)" fill="#c84830" opacity="0.45"/><ellipse cx="173.7" cy="1407.8" rx="5.1" ry="0.5" transform="rotate(24 173.7 1407.8)" fill="#c84830" opacity="0.45"/></g></svg>
<rect x="203.1" y="1384.8" width="71.7" height="48.1" fill="#dcc6a2" filter="url(#tex)"/>
<svg x="203.1" y="1384.8" width="71.7" height="48.1" viewBox="203.1 1384.8 71.7 48.1" overflow="hidden"><g filter="url(#blur3)"><ellipse cx="245.9" cy="1388.7" rx="5.9" ry="3.0" transform="rotate(133 245.9 1388.7)" fill="#d8583c" opacity="0.5"/><ellipse cx="217.5" cy="1389.3" rx="7.0" ry="2.8" transform="rotate(34 217.5 1389.3)" fill="#d8583c" opacity="0.5"/><ellipse cx="268.6" cy="1405.1" rx="4.4" ry="1.7" transform="rotate(16 268.6 1405.1)" fill="#d8583c" opacity="0.5"/><ellipse cx="215.1" cy="1405.0" rx="6.6" ry="1.8" transform="rotate(176 215.1 1405.0)" fill="#d8583c" opacity="0.5"/><ellipse cx="263.3" cy="1406.9" rx="4.9" ry="2.8" transform="rotate(158 263.3 1406.9)" fill="#d8583c" opacity="0.5"/><ellipse cx="243.4" cy="1423.0" rx="6.6" ry="2.3" transform="rotate(54 243.4 1423.0)" fill="#d8583c" opacity="0.5"/><ellipse cx="262.0" cy="1407.0" rx="4.3" ry="2.3" transform="rotate(118 262.0 1407.0)" fill="#d8583c" opacity="0.5"/><ellipse cx="272.5" cy="1393.5" rx="5.7" ry="3.8" transform="rotate(115 272.5 1393.5)" fill="#d8583c" opacity="0.5"/><ellipse cx="246.6" cy="1412.3" rx="4.4" ry="2.9" transform="rotate(26 246.6 1412.3)" fill="#d8583c" opacity="0.5"/><ellipse cx="213.4" cy="1407.3" rx="9.4" ry="2.9" transform="rotate(178 213.4 1407.3)" fill="#d8583c" opacity="0.5"/><ellipse cx="270.4" cy="1402.6" rx="8.8" ry="3.4" transform="rotate(86 270.4 1402.6)" fill="#d8583c" opacity="0.5"/><ellipse cx="238.3" cy="1415.3" rx="8.8" ry="1.7" transform="rotate(121 238.3 1415.3)" fill="#d8583c" opacity="0.5"/><ellipse cx="223.7" cy="1393.5" rx="8.0" ry="1.6" transform="rotate(84 223.7 1393.5)" fill="#d8583c" opacity="0.5"/></g><g filter="url(#blur05)"><ellipse cx="222.8" cy="1402.7" rx="4.3" ry="0.5" transform="rotate(174 222.8 1402.7)" fill="#c84830" opacity="0.45"/><ellipse cx="241.6" cy="1389.0" rx="4.5" ry="0.8" transform="rotate(72 241.6 1389.0)" fill="#c84830" opacity="0.45"/><ellipse cx="228.0" cy="1423.9" rx="5.5" ry="0.7" transform="rotate(179 228.0 1423.9)" fill="#c84830" opacity="0.45"/><ellipse cx="215.1" cy="1393.7" rx="4.5" ry="0.9" transform="rotate(46 215.1 1393.7)" fill="#c84830" opacity="0.45"/><ellipse cx="218.2" cy="1421.6" rx="4.1" ry="0.8" transform="rotate(87 218.2 1421.6)" fill="#c84830" opacity="0.45"/><ellipse cx="226.7" cy="1403.8" rx="4.9" ry="0.5" transform="rotate(130 226.7 1403.8)" fill="#c84830" opacity="0.45"/><ellipse cx="228.0" cy="1428.1" rx="2.7" ry="0.8" transform="rotate(148 228.0 1428.1)" fill="#c84830" opacity="0.45"/><ellipse cx="252.7" cy="1391.6" rx="3.6" ry="0.7" transform="rotate(119 252.7 1391.6)" fill="#c84830" opacity="0.45"/></g></svg>
<rect x="274.8" y="1384.8" width="71.6" height="48.1" fill="#dcc6a2" filter="url(#tex)"/>
<svg x="274.8" y="1384.8" width="71.6" height="48.1" viewBox="274.8 1384.8 71.6 48.1" overflow="hidden"><g filter="url(#blur3)"><ellipse cx="316.0" cy="1391.1" rx="6.4" ry="2.7" transform="rotate(5 316.0 1391.1)" fill="#d0503a" opacity="0.5"/><ellipse cx="314.5" cy="1394.0" rx="7.4" ry="3.9" transform="rotate(17 314.5 1394.0)" fill="#d0503a" opacity="0.5"/><ellipse cx="331.8" cy="1401.4" rx="9.2" ry="1.8" transform="rotate(105 331.8 1401.4)" fill="#d0503a" opacity="0.5"/><ellipse cx="332.0" cy="1407.4" rx="9.0" ry="3.8" transform="rotate(123 332.0 1407.4)" fill="#d0503a" opacity="0.5"/><ellipse cx="279.8" cy="1402.8" rx="8.9" ry="2.6" transform="rotate(167 279.8 1402.8)" fill="#d0503a" opacity="0.5"/><ellipse cx="321.1" cy="1404.7" rx="5.3" ry="3.5" transform="rotate(120 321.1 1404.7)" fill="#d0503a" opacity="0.5"/><ellipse cx="334.4" cy="1428.4" rx="5.7" ry="3.9" transform="rotate(90 334.4 1428.4)" fill="#d0503a" opacity="0.5"/><ellipse cx="280.7" cy="1401.2" rx="6.5" ry="3.6" transform="rotate(128 280.7 1401.2)" fill="#d0503a" opacity="0.5"/><ellipse cx="315.9" cy="1402.5" rx="4.1" ry="3.5" transform="rotate(165 315.9 1402.5)" fill="#d0503a" opacity="0.5"/><ellipse cx="300.3" cy="1409.8" rx="4.3" ry="2.5" transform="rotate(130 300.3 1409.8)" fill="#d0503a" opacity="0.5"/><ellipse cx="322.5" cy="1416.6" rx="8.3" ry="2.9" transform="rotate(84 322.5 1416.6)" fill="#d0503a" opacity="0.5"/><ellipse cx="284.4" cy="1405.0" rx="8.4" ry="2.7" transform="rotate(157 284.4 1405.0)" fill="#d0503a" opacity="0.5"/><ellipse cx="339.4" cy="1410.0" rx="6.8" ry="2.6" transform="rotate(0 339.4 1410.0)" fill="#d0503a" opacity="0.5"/></g><g filter="url(#blur05)"><ellipse cx="306.4" cy="1415.2" rx="4.9" ry="0.7" transform="rotate(177 306.4 1415.2)" fill="#b83a2c" opacity="0.45"/><ellipse cx="278.0" cy="1415.4" rx="3.7" ry="0.5" transform="rotate(119 278.0 1415.4)" fill="#b83a2c" opacity="0.45"/><ellipse cx="291.9" cy="1420.8" rx="5.9" ry="0.9" transform="rotate(118 291.9 1420.8)" fill="#b83a2c" opacity="0.45"/><ellipse cx="295.4" cy="1425.2" rx="3.6" ry="0.8" transform="rotate(8 295.4 1425.2)" fill="#b83a2c" opacity="0.45"/><ellipse cx="278.5" cy="1396.8" rx="5.1" ry="0.6" transform="rotate(123 278.5 1396.8)" fill="#b83a2c" opacity="0.45"/><ellipse cx="315.1" cy="1422.2" rx="5.2" ry="0.5" transform="rotate(38 315.1 1422.2)" fill="#b83a2c" opacity="0.45"/><ellipse cx="330.9" cy="1420.5" rx="5.6" ry="0.6" transform="rotate(166 330.9 1420.5)" fill="#b83a2c" opacity="0.45"/><ellipse cx="305.3" cy="1413.3" rx="3.3" ry="0.6" transform="rotate(91 305.3 1413.3)" fill="#b83a2c" opacity="0.45"/><ellipse cx="307.7" cy="1389.7" rx="3.0" ry="0.8" transform="rotate(54 307.7 1389.7)" fill="#b83a2c" opacity="0.45"/><ellipse cx="286.3" cy="1392.6" rx="2.9" ry="0.7" transform="rotate(2 286.3 1392.6)" fill="#b83a2c" opacity="0.45"/></g></svg>
<rect x="346.4" y="1384.8" width="71.9" height="48.1" fill="#dcc6a2" filter="url(#tex)"/>
<svg x="346.4" y="1384.8" width="71.9" height="48.1" viewBox="346.4 1384.8 71.9 48.1" overflow="hidden"><g filter="url(#blur3)"><ellipse cx="350.8" cy="1391.4" rx="5.1" ry="2.0" transform="rotate(4 350.8 1391.4)" fill="#d8583c" opacity="0.5"/><ellipse cx="386.5" cy="1426.6" rx="8.2" ry="3.7" transform="rotate(15 386.5 1426.6)" fill="#d8583c" opacity="0.5"/><ellipse cx="406.9" cy="1428.6" rx="9.3" ry="2.2" transform="rotate(9 406.9 1428.6)" fill="#d8583c" opacity="0.5"/><ellipse cx="410.0" cy="1424.5" rx="5.7" ry="2.5" transform="rotate(149 410.0 1424.5)" fill="#d8583c" opacity="0.5"/><ellipse cx="379.7" cy="1409.1" rx="5.0" ry="3.8" transform="rotate(96 379.7 1409.1)" fill="#d8583c" opacity="0.5"/><ellipse cx="390.2" cy="1409.9" rx="6.2" ry="3.4" transform="rotate(121 390.2 1409.9)" fill="#d8583c" opacity="0.5"/><ellipse cx="390.8" cy="1417.0" rx="9.6" ry="2.5" transform="rotate(46 390.8 1417.0)" fill="#d8583c" opacity="0.5"/><ellipse cx="383.8" cy="1400.0" rx="6.5" ry="3.1" transform="rotate(112 383.8 1400.0)" fill="#d8583c" opacity="0.5"/><ellipse cx="378.1" cy="1424.6" rx="9.4" ry="3.1" transform="rotate(159 378.1 1424.6)" fill="#d8583c" opacity="0.5"/><ellipse cx="412.6" cy="1409.7" rx="10.0" ry="2.7" transform="rotate(1 412.6 1409.7)" fill="#d8583c" opacity="0.5"/><ellipse cx="386.5" cy="1421.9" rx="6.2" ry="2.9" transform="rotate(112 386.5 1421.9)" fill="#d8583c" opacity="0.5"/><ellipse cx="408.3" cy="1405.9" rx="5.6" ry="2.0" transform="rotate(165 408.3 1405.9)" fill="#d8583c" opacity="0.5"/><ellipse cx="361.0" cy="1399.3" rx="4.8" ry="2.7" transform="rotate(36 361.0 1399.3)" fill="#d8583c" opacity="0.5"/></g><g filter="url(#blur05)"><ellipse cx="363.7" cy="1426.1" rx="2.9" ry="0.6" transform="rotate(80 363.7 1426.1)" fill="#c84830" opacity="0.45"/><ellipse cx="408.1" cy="1423.1" rx="3.1" ry="0.9" transform="rotate(119 408.1 1423.1)" fill="#c84830" opacity="0.45"/><ellipse cx="373.6" cy="1425.5" rx="2.5" ry="0.8" transform="rotate(53 373.6 1425.5)" fill="#c84830" opacity="0.45"/><ellipse cx="386.0" cy="1388.2" rx="4.9" ry="0.8" transform="rotate(162 386.0 1388.2)" fill="#c84830" opacity="0.45"/><ellipse cx="359.4" cy="1405.4" rx="2.5" ry="0.5" transform="rotate(161 359.4 1405.4)" fill="#c84830" opacity="0.45"/><ellipse cx="390.3" cy="1404.4" rx="3.7" ry="0.6" transform="rotate(75 390.3 1404.4)" fill="#c84830" opacity="0.45"/><ellipse cx="366.4" cy="1425.7" rx="5.5" ry="0.6" transform="rotate(80 366.4 1425.7)" fill="#c84830" opacity="0.45"/><ellipse cx="411.4" cy="1393.1" rx="4.2" ry="0.9" transform="rotate(143 411.4 1393.1)" fill="#c84830" opacity="0.45"/></g></svg>
<rect x="418.3" y="1384.8" width="72.6" height="48.1" fill="#e0d0ad" filter="url(#tex)"/>
<svg x="418.3" y="1384.8" width="72.6" height="48.1" viewBox="418.3 1384.8 72.6 48.1" overflow="hidden"><g filter="url(#blur3)"></g><g filter="url(#blur05)"></g></svg>
<rect x="132.2" y="1385.8" width="357.7" height="46.1" fill="none" stroke="#1c1611" stroke-width="2.2"/>
<line x1="203.1" y1="1384.8" x2="203.1" y2="1432.9" stroke="#1c1611" stroke-width="2.4"/>
<line x1="274.8" y1="1384.8" x2="274.8" y2="1432.9" stroke="#1c1611" stroke-width="2.4"/>
<line x1="346.4" y1="1384.8" x2="346.4" y2="1432.9" stroke="#1c1611" stroke-width="2.4"/>
<line x1="418.3" y1="1384.8" x2="418.3" y2="1432.9" stroke="#1c1611" stroke-width="2.4"/>
<rect x="133.3" y="1434.3" width="356.7" height="76.7" fill="#e6e0e4"/>
<rect x="133.3" y="1506.0" width="356.7" height="5" fill="#ebe5ea" opacity="0.7"/>
<circle cx="170.1" cy="1469.0" r="32.5" fill="url(#rimg)" stroke="#aaa2aa" stroke-width="0.9"/>
<circle cx="170.6" cy="1468.3" r="30.4" fill="url(#wallg)"/>
<circle cx="169.8" cy="1469.7" r="28.2" fill="#ca8ca6" filter="url(#mot)"/>
<circle cx="169.8" cy="1469.7" r="28.2" fill="url(#lit)"/>
<circle cx="242.4" cy="1469.0" r="32.5" fill="url(#rimg)" stroke="#aaa2aa" stroke-width="0.9"/>
<circle cx="242.9" cy="1468.3" r="30.4" fill="url(#wallg)"/>
<circle cx="242.1" cy="1469.7" r="28.2" fill="#cb8ca5" filter="url(#mot)"/>
<circle cx="242.1" cy="1469.7" r="28.2" fill="url(#lit)"/>
<circle cx="312.3" cy="1469.0" r="32.5" fill="url(#rimg)" stroke="#aaa2aa" stroke-width="0.9"/>
<circle cx="312.8" cy="1468.3" r="30.4" fill="url(#wallg)"/>
<circle cx="312.0" cy="1469.7" r="28.2" fill="#cd8ea8" filter="url(#mot)"/>
<circle cx="312.0" cy="1469.7" r="28.2" fill="url(#lit)"/>
<circle cx="384.0" cy="1469.0" r="32.5" fill="url(#rimg)" stroke="#aaa2aa" stroke-width="0.9"/>
<circle cx="384.5" cy="1468.3" r="30.4" fill="url(#wallg)"/>
<circle cx="383.7" cy="1469.7" r="28.2" fill="#cd91aa" filter="url(#mot)"/>
<circle cx="383.7" cy="1469.7" r="28.2" fill="url(#lit)"/>
<circle cx="455.0" cy="1469.0" r="32.5" fill="url(#rimg)" stroke="#aaa2aa" stroke-width="0.9"/>
<circle cx="455.5" cy="1468.3" r="30.4" fill="url(#wallg)"/>
<circle cx="454.7" cy="1469.7" r="28.2" fill="#ddd4da" filter="url(#motl)"/>
<circle cx="454.7" cy="1469.7" r="28.2" fill="url(#lit)"/>
<line x1="135.8" y1="1699.60" x2="484.1" y2="1699.60" stroke="#d9d9d9" stroke-width="1.4"/>
<line x1="135.8" y1="1654.97" x2="484.1" y2="1654.97" stroke="#d9d9d9" stroke-width="1.4"/>
<line x1="135.8" y1="1610.35" x2="484.1" y2="1610.35" stroke="#d9d9d9" stroke-width="1.4"/>
<line x1="135.8" y1="1565.72" x2="484.1" y2="1565.72" stroke="#d9d9d9" stroke-width="1.4"/>
<line x1="135.8" y1="1521.10" x2="484.1" y2="1521.10" stroke="#d9d9d9" stroke-width="1.4"/>
<rect x="147.60" y="1536.55" width="46.90" height="163.05" fill="#dae3f3" stroke="#262626" stroke-width="1.4"/>
<rect x="217.40" y="1539.25" width="46.20" height="160.35" fill="#b4c7e7" stroke="#262626" stroke-width="1.4"/>
<rect x="286.50" y="1539.25" width="46.10" height="160.35" fill="#8faadc" stroke="#262626" stroke-width="1.4"/>
<rect x="355.90" y="1537.65" width="46.20" height="161.95" fill="#4472c4" stroke="#262626" stroke-width="1.4"/>
<rect x="424.90" y="1640.15" width="46.20" height="59.45" fill="#ffffff" stroke="#262626" stroke-width="1.4"/>
<path d="M167.50,1534.70H174.50M171.00,1534.70V1537.30M167.50,1537.30H174.50" stroke="#1a1a1a" stroke-width="1.3" fill="none"/>
<path d="M237.00,1527.70H244.00M240.50,1527.70V1547.90M237.00,1547.90H244.00" stroke="#1a1a1a" stroke-width="1.3" fill="none"/>
<path d="M306.00,1530.50H313.00M309.50,1530.50V1546.40M306.00,1546.40H313.00" stroke="#1a1a1a" stroke-width="1.3" fill="none"/>
<path d="M375.50,1525.00H382.50M379.00,1525.00V1549.50M375.50,1549.50H382.50" stroke="#1a1a1a" stroke-width="1.3" fill="none"/>
<path d="M444.50,1638.00H451.50M448.00,1638.00V1641.80M444.50,1641.80H451.50" stroke="#1a1a1a" stroke-width="1.3" fill="none"/>
<text x="107.44" y="1705.92" font-size="21" fill="#000">0</text>
<text x="78.32" y="1661.30" font-size="21" fill="#000">0.05</text>
<text x="90.14" y="1616.67" font-size="21" fill="#000">0.1</text>
<text x="78.32" y="1572.05" font-size="21" fill="#000">0.15</text>
<text x="90.16" y="1527.42" font-size="21" fill="#000">0.2</text>
<text x="425.12" y="1638.20" font-size="24.0" stroke="#000" stroke-width="0.7">*</text><text x="436.92" y="1638.20" font-size="24.0" stroke="#000" stroke-width="0.7">*</text><text x="448.72" y="1638.20" font-size="24.0" stroke="#000" stroke-width="0.7">*</text><text x="460.52" y="1638.20" font-size="24.0" stroke="#000" stroke-width="0.7">*</text>
<text x="164.86" y="1731.66" font-size="21" fill="#000">0</text>
<text x="225.21" y="1731.66" font-size="21" fill="#000">0.1</text>
<text x="303.08" y="1731.66" font-size="21" fill="#000">1</text>
<text x="366.94" y="1731.66" font-size="21" fill="#000">10</text>
<text x="442.16" y="1731.66" font-size="21" fill="#000">0</text>
<line x1="145.5" y1="1742.50" x2="409.2" y2="1742.50" stroke="#000" stroke-width="2"/>
<text x="254.88" y="1767.77" font-size="23.5" textLength="43.87" lengthAdjust="spacingAndGlyphs" fill="#000">+AA</text>
<text transform="translate(31.00,1688.37) rotate(-90)" font-size="31">Absorbance</text>
<text transform="translate(66.00,1652.19) rotate(-90)" font-size="31">550 nm</text>
<text x="526.62" y="1376.93" font-size="37" font-weight="bold" textLength="94.67" lengthAdjust="spacingAndGlyphs" fill="#000">Dwn5</text>
<rect x="530.8" y="1383.0" width="71.2" height="48.2" fill="#cdb08a" filter="url(#tex)"/>
<svg x="530.8" y="1383.0" width="71.2" height="48.2" viewBox="530.8 1383.0 71.2 48.2" overflow="hidden"><g filter="url(#blur3)"><ellipse cx="590.5" cy="1390.1" rx="11.2" ry="1.6" transform="rotate(-38 590.5 1390.1)" fill="#b85a3c" opacity="0.45"/><ellipse cx="534.2" cy="1388.1" rx="9.0" ry="3.2" transform="rotate(-52 534.2 1388.1)" fill="#b85a3c" opacity="0.45"/><ellipse cx="548.1" cy="1401.2" rx="10.9" ry="2.9" transform="rotate(-33 548.1 1401.2)" fill="#b85a3c" opacity="0.45"/><ellipse cx="597.6" cy="1405.8" rx="10.5" ry="2.6" transform="rotate(-24 597.6 1405.8)" fill="#b85a3c" opacity="0.45"/><ellipse cx="589.1" cy="1418.7" rx="12.1" ry="2.6" transform="rotate(-32 589.1 1418.7)" fill="#b85a3c" opacity="0.45"/><ellipse cx="549.8" cy="1410.6" rx="10.4" ry="2.1" transform="rotate(-50 549.8 1410.6)" fill="#b85a3c" opacity="0.45"/><ellipse cx="586.0" cy="1402.5" rx="6.0" ry="2.4" transform="rotate(-41 586.0 1402.5)" fill="#b85a3c" opacity="0.45"/><ellipse cx="595.0" cy="1387.5" rx="13.7" ry="2.4" transform="rotate(-47 595.0 1387.5)" fill="#b85a3c" opacity="0.45"/><ellipse cx="538.7" cy="1388.8" rx="10.1" ry="2.7" transform="rotate(-58 538.7 1388.8)" fill="#b85a3c" opacity="0.45"/><ellipse cx="558.5" cy="1405.1" rx="8.2" ry="2.3" transform="rotate(-44 558.5 1405.1)" fill="#b85a3c" opacity="0.45"/><ellipse cx="600.0" cy="1388.1" rx="10.5" ry="3.2" transform="rotate(-54 600.0 1388.1)" fill="#b85a3c" opacity="0.45"/><ellipse cx="587.3" cy="1422.6" rx="12.3" ry="1.6" transform="rotate(-28 587.3 1422.6)" fill="#b85a3c" opacity="0.45"/></g><g filter="url(#blur05)"><ellipse cx="595.3" cy="1422.8" rx="4.2" ry="0.9" transform="rotate(-26 595.3 1422.8)" fill="#a84530" opacity="0.45"/><ellipse cx="540.6" cy="1395.0" rx="3.8" ry="0.5" transform="rotate(-50 540.6 1395.0)" fill="#a84530" opacity="0.45"/><ellipse cx="546.2" cy="1414.2" rx="4.2" ry="0.5" transform="rotate(-52 546.2 1414.2)" fill="#a84530" opacity="0.45"/><ellipse cx="557.1" cy="1396.3" rx="2.7" ry="0.8" transform="rotate(-50 557.1 1396.3)" fill="#a84530" opacity="0.45"/><ellipse cx="590.4" cy="1420.9" rx="2.8" ry="0.8" transform="rotate(-44 590.4 1420.9)" fill="#a84530" opacity="0.45"/><ellipse cx="581.6" cy="1396.9" rx="3.1" ry="0.7" transform="rotate(-25 581.6 1396.9)" fill="#a84530" opacity="0.45"/><ellipse cx="547.9" cy="1413.5" rx="3.5" ry="0.9" transform="rotate(-27 547.9 1413.5)" fill="#a84530" opacity="0.45"/><ellipse cx="572.2" cy="1393.0" rx="2.7" ry="0.9" transform="rotate(-26 572.2 1393.0)" fill="#a84530" opacity="0.45"/><ellipse cx="579.2" cy="1414.5" rx="4.8" ry="0.8" transform="rotate(-33 579.2 1414.5)" fill="#a84530" opacity="0.45"/><ellipse cx="550.0" cy="1393.1" rx="5.8" ry="0.6" transform="rotate(-53 550.0 1393.1)" fill="#a84530" opacity="0.45"/><ellipse cx="557.4" cy="1396.7" rx="5.7" ry="0.7" transform="rotate(-40 557.4 1396.7)" fill="#a84530" opacity="0.45"/><ellipse cx="541.0" cy="1407.5" rx="4.7" ry="0.7" transform="rotate(-30 541.0 1407.5)" fill="#a84530" opacity="0.45"/></g></svg>
<rect x="602.0" y="1383.0" width="70.3" height="48.2" fill="#cdb08a" filter="url(#tex)"/>
<svg x="602.0" y="1383.0" width="70.3" height="48.2" viewBox="602.0 1383.0 70.3 48.2" overflow="hidden"><g filter="url(#blur3)"><ellipse cx="620.9" cy="1425.3" rx="8.5" ry="1.5" transform="rotate(-20 620.9 1425.3)" fill="#b04a30" opacity="0.5"/><ellipse cx="623.4" cy="1389.0" rx="10.9" ry="2.5" transform="rotate(-40 623.4 1389.0)" fill="#b04a30" opacity="0.5"/><ellipse cx="641.2" cy="1423.1" rx="7.3" ry="2.3" transform="rotate(-19 641.2 1423.1)" fill="#b04a30" opacity="0.5"/><ellipse cx="643.6" cy="1387.7" rx="5.7" ry="1.4" transform="rotate(-39 643.6 1387.7)" fill="#b04a30" opacity="0.5"/><ellipse cx="648.2" cy="1396.5" rx="5.8" ry="3.2" transform="rotate(-23 648.2 1396.5)" fill="#b04a30" opacity="0.5"/><ellipse cx="658.5" cy="1387.7" rx="11.1" ry="2.6" transform="rotate(-42 658.5 1387.7)" fill="#b04a30" opacity="0.5"/><ellipse cx="636.1" cy="1426.9" rx="13.8" ry="2.4" transform="rotate(-44 636.1 1426.9)" fill="#b04a30" opacity="0.5"/><ellipse cx="653.4" cy="1392.7" rx="11.2" ry="1.4" transform="rotate(-46 653.4 1392.7)" fill="#b04a30" opacity="0.5"/><ellipse cx="605.1" cy="1395.7" rx="13.6" ry="2.2" transform="rotate(-36 605.1 1395.7)" fill="#b04a30" opacity="0.5"/><ellipse cx="628.0" cy="1393.7" rx="10.6" ry="2.6" transform="rotate(-30 628.0 1393.7)" fill="#b04a30" opacity="0.5"/><ellipse cx="626.9" cy="1410.4" rx="7.4" ry="1.6" transform="rotate(-35 626.9 1410.4)" fill="#b04a30" opacity="0.5"/><ellipse cx="622.3" cy="1429.0" rx="6.2" ry="1.8" transform="rotate(-29 622.3 1429.0)" fill="#b04a30" opacity="0.5"/><ellipse cx="644.6" cy="1391.5" rx="12.7" ry="2.2" transform="rotate(-42 644.6 1391.5)" fill="#b04a30" opacity="0.5"/><ellipse cx="660.3" cy="1400.4" rx="9.9" ry="2.2" transform="rotate(-47 660.3 1400.4)" fill="#b04a30" opacity="0.5"/><ellipse cx="659.9" cy="1412.9" rx="11.6" ry="1.7" transform="rotate(-23 659.9 1412.9)" fill="#b04a30" opacity="0.5"/><ellipse cx="657.1" cy="1397.3" rx="12.0" ry="2.1" transform="rotate(-31 657.1 1397.3)" fill="#b04a30" opacity="0.5"/></g><g filter="url(#blur05)"><ellipse cx="610.1" cy="1420.3" rx="4.6" ry="0.7" transform="rotate(-43 610.1 1420.3)" fill="#9a3a28" opacity="0.45"/><ellipse cx="657.3" cy="1404.9" rx="3.8" ry="0.8" transform="rotate(-33 657.3 1404.9)" fill="#9a3a28" opacity="0.45"/><ellipse cx="645.3" cy="1403.6" rx="5.0" ry="0.6" transform="rotate(-24 645.3 1403.6)" fill="#9a3a28" opacity="0.45"/><ellipse cx="611.9" cy="1422.4" rx="3.8" ry="0.7" transform="rotate(-48 611.9 1422.4)" fill="#9a3a28" opacity="0.45"/><ellipse cx="632.7" cy="1417.1" rx="5.9" ry="0.7" transform="rotate(-39 632.7 1417.1)" fill="#9a3a28" opacity="0.45"/><ellipse cx="615.1" cy="1399.9" rx="3.4" ry="0.7" transform="rotate(-45 615.1 1399.9)" fill="#9a3a28" opacity="0.45"/><ellipse cx="666.9" cy="1402.0" rx="5.7" ry="0.7" transform="rotate(-43 666.9 1402.0)" fill="#9a3a28" opacity="0.45"/><ellipse cx="625.3" cy="1403.6" rx="4.1" ry="0.8" transform="rotate(-40 625.3 1403.6)" fill="#9a3a28" opacity="0.45"/><ellipse cx="643.3" cy="1404.5" rx="4.1" ry="0.6" transform="rotate(-35 643.3 1404.5)" fill="#9a3a28" opacity="0.45"/><ellipse cx="627.7" cy="1402.3" rx="5.0" ry="0.5" transform="rotate(-26 627.7 1402.3)" fill="#9a3a28" opacity="0.45"/><ellipse cx="620.4" cy="1402.0" rx="5.8" ry="0.6" transform="rotate(-46 620.4 1402.0)" fill="#9a3a28" opacity="0.45"/><ellipse cx="652.1" cy="1422.7" rx="5.2" ry="0.5" transform="rotate(-46 652.1 1422.7)" fill="#9a3a28" opacity="0.45"/><ellipse cx="654.0" cy="1408.6" rx="2.7" ry="0.6" transform="rotate(-41 654.0 1408.6)" fill="#9a3a28" opacity="0.45"/><ellipse cx="632.0" cy="1422.4" rx="5.1" ry="0.9" transform="rotate(-42 632.0 1422.4)" fill="#9a3a28" opacity="0.45"/><ellipse cx="644.5" cy="1418.1" rx="2.8" ry="0.7" transform="rotate(-35 644.5 1418.1)" fill="#9a3a28" opacity="0.45"/><ellipse cx="659.0" cy="1394.2" rx="2.6" ry="0.5" transform="rotate(-43 659.0 1394.2)" fill="#9a3a28" opacity="0.45"/></g></svg>
<rect x="672.3" y="1383.0" width="70.4" height="48.2" fill="#cdb08a" filter="url(#tex)"/>
<svg x="672.3" y="1383.0" width="70.4" height="48.2" viewBox="672.3 1383.0 70.4 48.2" overflow="hidden"><g filter="url(#blur3)"><ellipse cx="722.5" cy="1392.1" rx="13.4" ry="2.4" transform="rotate(-37 722.5 1392.1)" fill="#a84430" opacity="0.55"/><ellipse cx="717.8" cy="1391.3" rx="13.3" ry="3.1" transform="rotate(-36 717.8 1391.3)" fill="#a84430" opacity="0.55"/><ellipse cx="734.8" cy="1413.9" rx="13.9" ry="1.9" transform="rotate(-47 734.8 1413.9)" fill="#a84430" opacity="0.55"/><ellipse cx="737.7" cy="1398.2" rx="7.8" ry="2.3" transform="rotate(-54 737.7 1398.2)" fill="#a84430" opacity="0.55"/><ellipse cx="697.8" cy="1403.1" rx="5.7" ry="2.5" transform="rotate(-33 697.8 1403.1)" fill="#a84430" opacity="0.55"/><ellipse cx="697.7" cy="1411.1" rx="9.5" ry="2.9" transform="rotate(-62 697.7 1411.1)" fill="#a84430" opacity="0.55"/><ellipse cx="707.4" cy="1402.3" rx="5.9" ry="2.0" transform="rotate(-58 707.4 1402.3)" fill="#a84430" opacity="0.55"/><ellipse cx="725.4" cy="1428.7" rx="6.7" ry="1.8" transform="rotate(-28 725.4 1428.7)" fill="#a84430" opacity="0.55"/><ellipse cx="738.9" cy="1406.5" rx="13.6" ry="1.9" transform="rotate(-43 738.9 1406.5)" fill="#a84430" opacity="0.55"/><ellipse cx="694.1" cy="1412.2" rx="9.8" ry="1.8" transform="rotate(-36 694.1 1412.2)" fill="#a84430" opacity="0.55"/><ellipse cx="718.6" cy="1414.3" rx="9.6" ry="2.6" transform="rotate(-58 718.6 1414.3)" fill="#a84430" opacity="0.55"/><ellipse cx="694.8" cy="1404.4" rx="5.9" ry="2.4" transform="rotate(-39 694.8 1404.4)" fill="#a84430" opacity="0.55"/><ellipse cx="718.3" cy="1404.9" rx="6.2" ry="2.7" transform="rotate(-54 718.3 1404.9)" fill="#a84430" opacity="0.55"/><ellipse cx="736.9" cy="1425.2" rx="9.7" ry="1.5" transform="rotate(-30 736.9 1425.2)" fill="#a84430" opacity="0.55"/><ellipse cx="701.6" cy="1394.1" rx="11.3" ry="2.6" transform="rotate(-61 701.6 1394.1)" fill="#a84430" opacity="0.55"/><ellipse cx="713.4" cy="1391.2" rx="12.1" ry="1.9" transform="rotate(-39 713.4 1391.2)" fill="#a84430" opacity="0.55"/></g><g filter="url(#blur05)"><ellipse cx="700.8" cy="1402.2" rx="3.2" ry="0.9" transform="rotate(-52 700.8 1402.2)" fill="#9a3a28" opacity="0.45"/><ellipse cx="693.2" cy="1415.6" rx="2.7" ry="0.8" transform="rotate(-51 693.2 1415.6)" fill="#9a3a28" opacity="0.45"/><ellipse cx="688.6" cy="1410.7" rx="3.4" ry="0.6" transform="rotate(-56 688.6 1410.7)" fill="#9a3a28" opacity="0.45"/><ellipse cx="723.3" cy="1387.3" rx="5.1" ry="0.7" transform="rotate(-44 723.3 1387.3)" fill="#9a3a28" opacity="0.45"/><ellipse cx="706.5" cy="1393.0" rx="5.6" ry="0.8" transform="rotate(-38 706.5 1393.0)" fill="#9a3a28" opacity="0.45"/><ellipse cx="706.9" cy="1393.2" rx="4.4" ry="0.8" transform="rotate(-56 706.9 1393.2)" fill="#9a3a28" opacity="0.45"/><ellipse cx="690.0" cy="1399.9" rx="4.6" ry="0.6" transform="rotate(-50 690.0 1399.9)" fill="#9a3a28" opacity="0.45"/><ellipse cx="700.3" cy="1425.0" rx="2.8" ry="0.9" transform="rotate(-41 700.3 1425.0)" fill="#9a3a28" opacity="0.45"/><ellipse cx="698.2" cy="1399.4" rx="4.2" ry="0.8" transform="rotate(-48 698.2 1399.4)" fill="#9a3a28" opacity="0.45"/><ellipse cx="676.1" cy="1417.8" rx="5.6" ry="0.9" transform="rotate(-38 676.1 1417.8)" fill="#9a3a28" opacity="0.45"/><ellipse cx="692.9" cy="1386.4" rx="2.7" ry="0.6" transform="rotate(-34 692.9 1386.4)" fill="#9a3a28" opacity="0.45"/><ellipse cx="679.7" cy="1390.8" rx="4.3" ry="0.9" transform="rotate(-56 679.7 1390.8)" fill="#9a3a28" opacity="0.45"/><ellipse cx="699.3" cy="1404.1" rx="3.7" ry="0.8" transform="rotate(-37 699.3 1404.1)" fill="#9a3a28" opacity="0.45"/><ellipse cx="675.4" cy="1394.4" rx="4.6" ry="0.8" transform="rotate(-42 675.4 1394.4)" fill="#9a3a28" opacity="0.45"/><ellipse cx="696.0" cy="1416.3" rx="5.5" ry="0.7" transform="rotate(-58 696.0 1416.3)" fill="#9a3a28" opacity="0.45"/><ellipse cx="707.7" cy="1420.8" rx="5.3" ry="0.7" transform="rotate(-44 707.7 1420.8)" fill="#9a3a28" opacity="0.45"/></g></svg>
<rect x="742.7" y="1383.0" width="70.7" height="48.2" fill="#cdb08a" filter="url(#tex)"/>
<svg x="742.7" y="1383.0" width="70.7" height="48.2" viewBox="742.7 1383.0 70.7 48.2" overflow="hidden"><g filter="url(#blur3)"><ellipse cx="748.7" cy="1422.7" rx="13.6" ry="2.7" transform="rotate(-40 748.7 1422.7)" fill="#b85a3c" opacity="0.45"/><ellipse cx="752.8" cy="1427.7" rx="13.0" ry="3.0" transform="rotate(-47 752.8 1427.7)" fill="#b85a3c" opacity="0.45"/><ellipse cx="797.5" cy="1403.8" rx="6.5" ry="1.5" transform="rotate(-33 797.5 1403.8)" fill="#b85a3c" opacity="0.45"/><ellipse cx="806.2" cy="1387.4" rx="10.1" ry="2.8" transform="rotate(-47 806.2 1387.4)" fill="#b85a3c" opacity="0.45"/><ellipse cx="747.6" cy="1400.0" rx="6.7" ry="1.3" transform="rotate(-41 747.6 1400.0)" fill="#b85a3c" opacity="0.45"/><ellipse cx="803.5" cy="1414.2" rx="10.4" ry="2.2" transform="rotate(-38 803.5 1414.2)" fill="#b85a3c" opacity="0.45"/><ellipse cx="776.1" cy="1402.2" rx="7.1" ry="1.4" transform="rotate(-55 776.1 1402.2)" fill="#b85a3c" opacity="0.45"/><ellipse cx="793.3" cy="1398.9" rx="12.3" ry="1.3" transform="rotate(-40 793.3 1398.9)" fill="#b85a3c" opacity="0.45"/><ellipse cx="788.5" cy="1397.1" rx="9.9" ry="2.9" transform="rotate(-42 788.5 1397.1)" fill="#b85a3c" opacity="0.45"/><ellipse cx="769.6" cy="1422.4" rx="12.1" ry="2.7" transform="rotate(-48 769.6 1422.4)" fill="#b85a3c" opacity="0.45"/><ellipse cx="761.2" cy="1421.2" rx="6.1" ry="2.1" transform="rotate(-36 761.2 1421.2)" fill="#b85a3c" opacity="0.45"/><ellipse cx="778.0" cy="1412.3" rx="8.5" ry="2.3" transform="rotate(-53 778.0 1412.3)" fill="#b85a3c" opacity="0.45"/><ellipse cx="805.4" cy="1424.4" rx="5.9" ry="3.0" transform="rotate(-49 805.4 1424.4)" fill="#b85a3c" opacity="0.45"/><ellipse cx="804.0" cy="1408.5" rx="9.5" ry="1.5" transform="rotate(-55 804.0 1408.5)" fill="#b85a3c" opacity="0.45"/></g><g filter="url(#blur05)"><ellipse cx="756.9" cy="1418.6" rx="3.3" ry="0.8" transform="rotate(-65 756.9 1418.6)" fill="#a84530" opacity="0.45"/><ellipse cx="746.3" cy="1424.5" rx="3.4" ry="0.5" transform="rotate(-52 746.3 1424.5)" fill="#a84530" opacity="0.45"/><ellipse cx="769.2" cy="1427.2" rx="3.9" ry="0.5" transform="rotate(-62 769.2 1427.2)" fill="#a84530" opacity="0.45"/><ellipse cx="776.6" cy="1394.6" rx="4.8" ry="0.5" transform="rotate(-36 776.6 1394.6)" fill="#a84530" opacity="0.45"/><ellipse cx="796.0" cy="1419.4" rx="3.0" ry="0.7" transform="rotate(-51 796.0 1419.4)" fill="#a84530" opacity="0.45"/><ellipse cx="753.1" cy="1387.0" rx="3.7" ry="0.8" transform="rotate(-43 753.1 1387.0)" fill="#a84530" opacity="0.45"/><ellipse cx="796.5" cy="1413.6" rx="3.8" ry="0.5" transform="rotate(-44 796.5 1413.6)" fill="#a84530" opacity="0.45"/><ellipse cx="756.7" cy="1398.6" rx="3.2" ry="0.9" transform="rotate(-42 756.7 1398.6)" fill="#a84530" opacity="0.45"/><ellipse cx="764.8" cy="1427.1" rx="4.6" ry="0.6" transform="rotate(-64 764.8 1427.1)" fill="#a84530" opacity="0.45"/><ellipse cx="788.3" cy="1421.4" rx="4.8" ry="0.8" transform="rotate(-49 788.3 1421.4)" fill="#a84530" opacity="0.45"/><ellipse cx="758.2" cy="1419.6" rx="5.0" ry="0.7" transform="rotate(-46 758.2 1419.6)" fill="#a84530" opacity="0.45"/><ellipse cx="756.4" cy="1395.9" rx="4.5" ry="0.7" transform="rotate(-56 756.4 1395.9)" fill="#a84530" opacity="0.45"/></g></svg>
<rect x="813.4" y="1383.0" width="74.0" height="48.2" fill="#d8c8a4" filter="url(#tex)"/>
<svg x="813.4" y="1383.0" width="74.0" height="48.2" viewBox="813.4 1383.0 74.0 48.2" overflow="hidden"><g filter="url(#blur3)"></g><g filter="url(#blur05)"><ellipse cx="879.8" cy="1414.0" rx="4.3" ry="0.6" transform="rotate(-48 879.8 1414.0)" fill="#b09070" opacity="0.45"/><ellipse cx="877.8" cy="1423.3" rx="3.5" ry="0.6" transform="rotate(-28 877.8 1423.3)" fill="#b09070" opacity="0.45"/><ellipse cx="853.0" cy="1413.2" rx="4.3" ry="0.5" transform="rotate(-29 853.0 1413.2)" fill="#b09070" opacity="0.45"/></g></svg>
<rect x="531.8" y="1384.0" width="354.6" height="46.2" fill="none" stroke="#1c1611" stroke-width="2.2"/>
<line x1="602.0" y1="1383.0" x2="602.0" y2="1431.2" stroke="#1c1611" stroke-width="2.4"/>
<line x1="672.3" y1="1383.0" x2="672.3" y2="1431.2" stroke="#1c1611" stroke-width="2.4"/>
<line x1="742.7" y1="1383.0" x2="742.7" y2="1431.2" stroke="#1c1611" stroke-width="2.4"/>
<line x1="813.4" y1="1383.0" x2="813.4" y2="1431.2" stroke="#1c1611" stroke-width="2.4"/>
<rect x="532.0" y="1432.2" width="354.7" height="68.2" fill="#ece5e9"/>
<rect x="532.0" y="1495.4" width="354.7" height="5" fill="#ebe5ea" opacity="0.7"/>
<circle cx="567.0" cy="1465.8" r="32.5" fill="url(#rimg)" stroke="#aaa2aa" stroke-width="0.9"/>
<circle cx="567.5" cy="1465.1" r="30.4" fill="url(#wallg)"/>
<circle cx="566.7" cy="1466.5" r="28.2" fill="#df9fb9" filter="url(#motm)"/>
<circle cx="566.7" cy="1466.5" r="28.2" fill="url(#lit)"/>
<circle cx="637.7" cy="1465.8" r="32.5" fill="url(#rimg)" stroke="#aaa2aa" stroke-width="0.9"/>
<circle cx="638.2" cy="1465.1" r="30.4" fill="url(#wallg)"/>
<circle cx="637.4" cy="1466.5" r="28.2" fill="#dd9bb5" filter="url(#motm)"/>
<circle cx="637.4" cy="1466.5" r="28.2" fill="url(#lit)"/>
<circle cx="708.4" cy="1465.8" r="32.5" fill="url(#rimg)" stroke="#aaa2aa" stroke-width="0.9"/>
<circle cx="708.9" cy="1465.1" r="30.4" fill="url(#wallg)"/>
<circle cx="708.1" cy="1466.5" r="28.2" fill="#df9fb8" filter="url(#motm)"/>
<circle cx="708.1" cy="1466.5" r="28.2" fill="url(#lit)"/>
<circle cx="779.0" cy="1465.8" r="32.5" fill="url(#rimg)" stroke="#aaa2aa" stroke-width="0.9"/>
<circle cx="779.5" cy="1465.1" r="30.4" fill="url(#wallg)"/>
<circle cx="778.7" cy="1466.5" r="28.2" fill="#e0a3bb" filter="url(#motm)"/>
<circle cx="778.7" cy="1466.5" r="28.2" fill="url(#lit)"/>
<circle cx="850.0" cy="1465.8" r="32.5" fill="url(#rimg)" stroke="#aaa2aa" stroke-width="0.9"/>
<circle cx="850.5" cy="1465.1" r="30.4" fill="url(#wallg)"/>
<circle cx="849.7" cy="1466.5" r="28.2" fill="#e8d2dc" filter="url(#motl)"/>
<circle cx="849.7" cy="1466.5" r="28.2" fill="url(#lit)"/>
<line x1="534.5" y1="1699.20" x2="887.4" y2="1699.20" stroke="#d9d9d9" stroke-width="1.4"/>
<line x1="534.5" y1="1654.70" x2="887.4" y2="1654.70" stroke="#d9d9d9" stroke-width="1.4"/>
<line x1="534.5" y1="1610.20" x2="887.4" y2="1610.20" stroke="#d9d9d9" stroke-width="1.4"/>
<line x1="534.5" y1="1565.70" x2="887.4" y2="1565.70" stroke="#d9d9d9" stroke-width="1.4"/>
<line x1="534.5" y1="1521.20" x2="887.4" y2="1521.20" stroke="#d9d9d9" stroke-width="1.4"/>
<rect x="546.00" y="1561.25" width="47.00" height="137.95" fill="#dae3f3" stroke="#262626" stroke-width="1.4"/>
<rect x="616.70" y="1560.15" width="46.70" height="139.05" fill="#b4c7e7" stroke="#262626" stroke-width="1.4"/>
<rect x="687.10" y="1560.15" width="47.00" height="139.05" fill="#8faadc" stroke="#262626" stroke-width="1.4"/>
<rect x="758.20" y="1558.65" width="47.00" height="140.55" fill="#4472c4" stroke="#262626" stroke-width="1.4"/>
<rect x="829.30" y="1642.15" width="46.30" height="57.05" fill="#ffffff" stroke="#262626" stroke-width="1.4"/>
<path d="M566.00,1552.60H573.00M569.50,1552.60V1569.70M566.00,1569.70H573.00" stroke="#1a1a1a" stroke-width="1.3" fill="none"/>
<path d="M636.50,1555.00H643.50M640.00,1555.00V1564.00M636.50,1564.00H643.50" stroke="#1a1a1a" stroke-width="1.3" fill="none"/>
<path d="M707.10,1554.00H714.10M710.60,1554.00V1564.00M707.10,1564.00H714.10" stroke="#1a1a1a" stroke-width="1.3" fill="none"/>
<path d="M778.20,1552.20H785.20M781.70,1552.20V1564.60M778.20,1564.60H785.20" stroke="#1a1a1a" stroke-width="1.3" fill="none"/>
<path d="M848.90,1639.00H855.90M852.40,1639.00V1644.50M848.90,1644.50H855.90" stroke="#1a1a1a" stroke-width="1.3" fill="none"/>
<text x="828.72" y="1640.30" font-size="24.0" stroke="#000" stroke-width="0.7">*</text><text x="840.52" y="1640.30" font-size="24.0" stroke="#000" stroke-width="0.7">*</text><text x="852.32" y="1640.30" font-size="24.0" stroke="#000" stroke-width="0.7">*</text><text x="864.12" y="1640.30" font-size="24.0" stroke="#000" stroke-width="0.7">*</text>
<text x="563.66" y="1730.96" font-size="21" fill="#000">0</text>
<text x="625.01" y="1730.96" font-size="21" fill="#000">0.1</text>
<text x="704.48" y="1730.96" font-size="21" fill="#000">1</text>
<text x="769.64" y="1730.96" font-size="21" fill="#000">10</text>
<text x="846.16" y="1730.96" font-size="21" fill="#000">0</text>
<line x1="552.0" y1="1742.30" x2="814.5" y2="1742.30" stroke="#000" stroke-width="2"/>
<text x="661.08" y="1767.77" font-size="23.5" textLength="43.87" lengthAdjust="spacingAndGlyphs" fill="#000">+AA</text>
<text x="876.72" y="1748.31" font-size="26.5" font-weight="bold" textLength="52.96" lengthAdjust="spacingAndGlyphs" fill="#000">(µM)</text>
</svg></body></html>
